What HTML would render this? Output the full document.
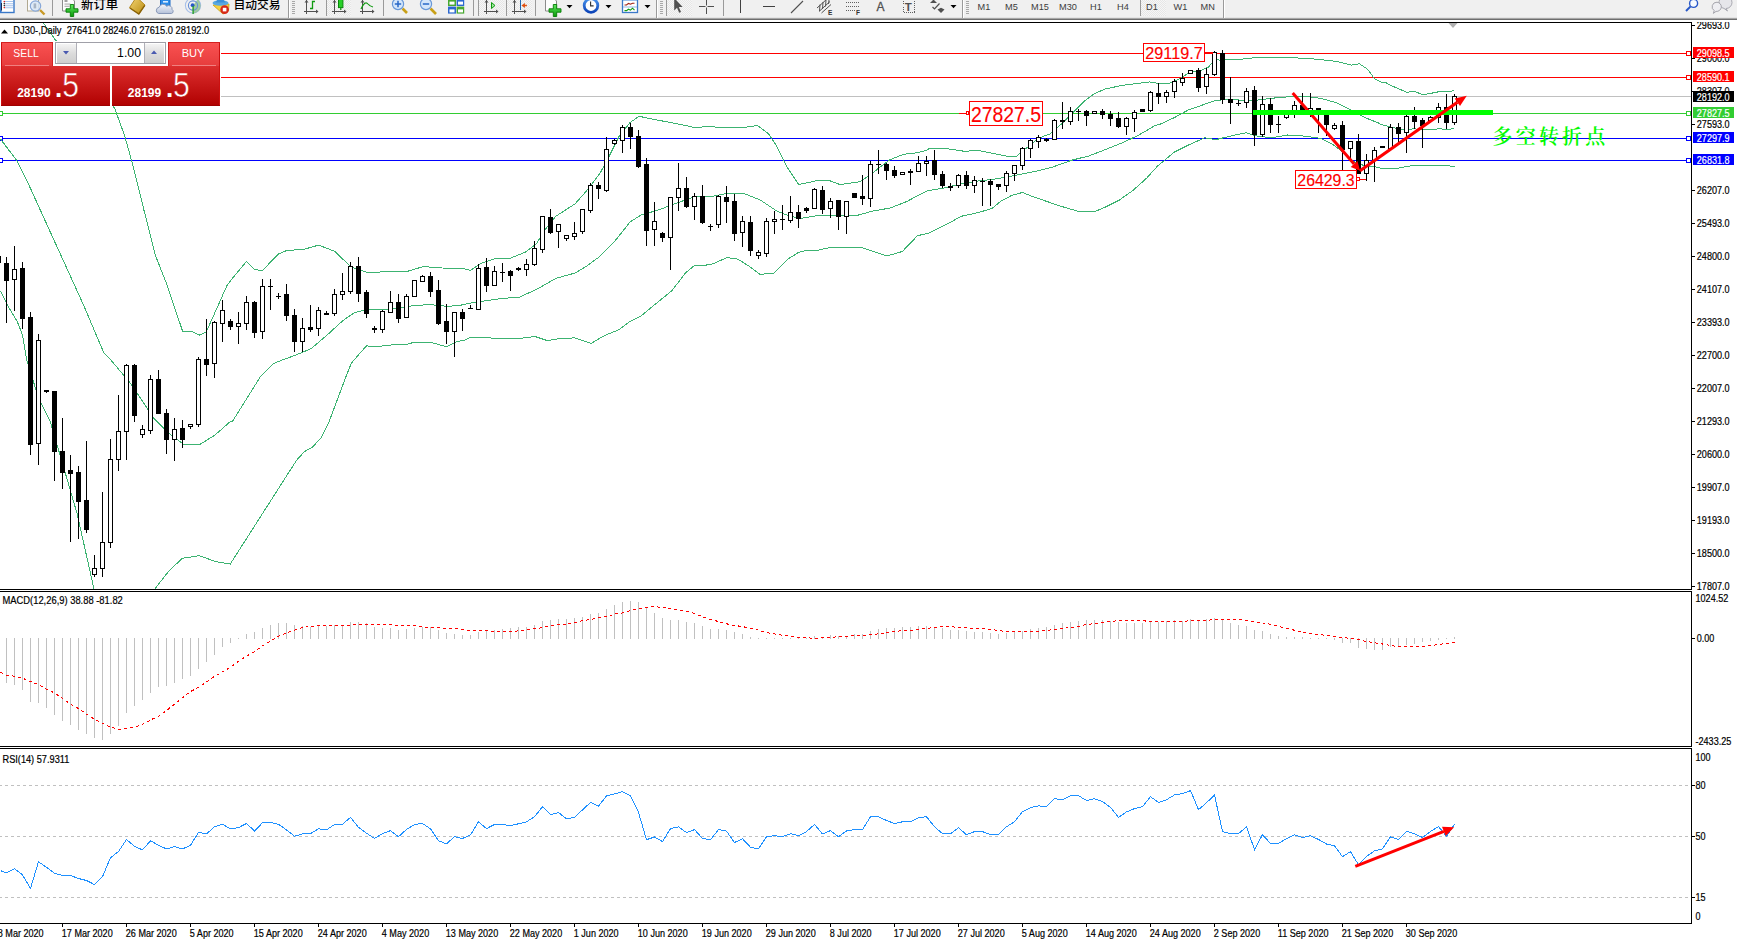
<!DOCTYPE html>
<html lang="zh"><head><meta charset="utf-8"><title>DJ30 Daily</title>
<style>
html,body{margin:0;padding:0;background:#fff;}
body{width:1737px;height:941px;overflow:hidden;position:relative;font-family:"Liberation Sans", sans-serif;}
#chart{position:absolute;left:0;top:0;}
#tb{position:absolute;left:0;top:0;width:1737px;height:22px;overflow:hidden;}
.t{position:absolute;white-space:nowrap;}
#panel{position:absolute;left:0;top:0;}
</style></head><body>
<svg id="chart" width="1737" height="941" viewBox="0 0 1737 941" font-family='"Liberation Sans", sans-serif'>
<rect width="1737" height="941" fill="#fff"/>
<g shape-rendering="crispEdges">
<rect x="0" y="53" width="1691" height="1" fill="#ff0000"/>
<rect x="0" y="77" width="1691" height="1" fill="#ff0000"/>
<rect x="0" y="96" width="1691" height="1" fill="#c0c0c0"/>
<rect x="0" y="113" width="1691" height="1" fill="#32cd32"/>
<rect x="0" y="138" width="1691" height="1" fill="#0000ff"/>
<rect x="0" y="160" width="1691" height="1" fill="#0000ff"/>
<rect x="1686.5" y="51.5" width="4" height="4" fill="#fff" stroke="#ff0000" stroke-width="1"/>
<rect x="1686.5" y="75.5" width="4" height="4" fill="#fff" stroke="#ff0000" stroke-width="1"/>
<rect x="1686.5" y="111.5" width="4" height="4" fill="#fff" stroke="#32cd32" stroke-width="1"/>
<rect x="1686.5" y="136.5" width="4" height="4" fill="#fff" stroke="#0000ff" stroke-width="1"/>
<rect x="1686.5" y="158.5" width="4" height="4" fill="#fff" stroke="#0000ff" stroke-width="1"/>
<rect x="-0.5" y="111.5" width="3" height="4" fill="#fff" stroke="#32cd32" stroke-width="1"/>
<rect x="-0.5" y="136.5" width="3" height="4" fill="#fff" stroke="#0000ff" stroke-width="1"/>
<rect x="-0.5" y="158.5" width="3" height="4" fill="#fff" stroke="#0000ff" stroke-width="1"/>
</g>
<g clip-path="url(#cpm)">
<defs><clipPath id="cpm"><rect x="0" y="23" width="1691" height="566"/></clipPath></defs>
<polyline points="43.0,22.3 43.7,23.4 55.4,40.0 114.6,108.0 124.8,136.2 131.7,161.1 144.1,210.8 155.2,255.0 166.2,282.6 182.8,331.8 191.1,331.0 199.4,335.1 206.3,331.8 216.0,310.2 227.0,285.4 232.5,278.2 246.3,261.6 254.6,269.4 262.3,270.7 278.1,254.2 286.4,250.6 304.3,249.2 318.7,245.1 334.7,251.4 351.3,267.2 367.9,272.7 387.2,271.6 406.5,271.6 423.1,266.6 442.4,268.0 464.5,268.8 470.0,270.2 470.1,270.7 481.1,263.3 494.9,258.6 510.1,258.3 525.3,252.2 536.3,243.9 544.6,230.1 555.7,216.3 575.0,203.9 586.0,191.5 599.9,173.5 608.1,158.3 619.2,136.2 630.2,122.4 639.1,116.3 655.1,119.6 677.2,123.8 696.5,127.9 703.5,126.8 704.8,126.0 718.6,127.4 746.2,127.2 757.3,125.5 768.3,133.5 776.6,145.9 787.7,168.0 798.7,184.6 815.3,181.0 829.1,180.5 840.1,184.6 859.5,181.8 870.5,174.9 878.8,168.0 889.9,159.7 903.7,154.2 917.5,152.8 928.5,149.6 928.5,148.7 936.8,148.3 950.6,149.1 964.4,151.3 978.2,150.5 992.0,153.2 1005.8,156.0 1016.9,156.0 1025.2,149.1 1039.0,138.0 1050.0,133.9 1061.1,124.2 1072.1,113.2 1083.2,102.1 1094.2,93.8 1105.3,88.9 1121.9,85.5 1135.7,83.6 1149.5,82.0 1160.5,83.6 1168.9,83.6 1174.5,81.0 1180.0,78.7 1183.5,76.3 1188.3,73.1 1193.8,71.3 1202.2,69.9 1208.5,67.1 1212.3,62.5 1217.9,59.3 1221.5,61.1 1226.2,59.7 1237.8,59.6 1237.8,59.6 1254.4,57.7 1271.0,57.7 1287.6,57.7 1304.1,58.2 1320.7,59.6 1337.3,61.5 1351.1,65.1 1359.4,63.7 1367.7,69.3 1374.6,78.9 1380.5,81.9 1387.0,83.1 1389.4,84.9 1398.4,88.6 1406.5,92.3 1414.7,91.5 1422.9,94.8 1431.1,93.3 1440.0,91.5 1447.5,92.0 1454.5,90.5" fill="none" stroke="#3cb371" stroke-width="1" shape-rendering="crispEdges"/>
<polyline points="0.5,139.0 17.1,161.1 28.1,183.2 55.7,243.9 83.4,304.7 103.8,352.8 111.0,360.2 130.6,383.4 153.6,417.9 168.9,433.2 184.2,444.7 199.5,444.7 214.9,435.1 230.2,421.7 232.5,421.3 246.3,399.2 260.1,377.1 273.9,363.3 282.2,360.0 296.0,355.0 311.2,348.6 326.4,335.7 343.0,320.5 354.0,313.0 366.5,309.4 381.7,309.7 398.2,308.6 414.8,305.3 431.4,304.7 448.0,306.4 464.5,304.7 467.3,303.6 481.1,301.4 500.4,298.6 519.7,297.0 536.3,289.5 555.7,278.5 575.0,273.0 586.0,266.6 599.9,256.4 613.7,242.6 630.2,221.8 641.3,214.9 657.9,210.2 674.4,203.9 693.8,197.0 703.5,196.4 704.8,196.5 713.1,196.2 726.9,193.4 743.5,193.4 760.0,199.8 776.6,210.9 790.4,216.4 801.5,218.3 820.8,215.0 840.1,215.5 856.7,215.5 873.3,210.9 889.9,208.1 906.4,201.7 923.0,192.9 928.5,190.5 945.1,187.8 958.9,184.4 978.2,180.9 992.0,179.5 1008.6,176.7 1022.4,173.9 1039.0,170.6 1052.8,167.0 1072.1,160.1 1088.7,156.0 1105.3,149.6 1121.9,143.0 1138.4,135.3 1155.0,125.6 1160.5,124.0 1174.3,117.6 1188.1,110.1 1201.9,105.2 1215.7,100.5 1229.6,99.1 1243.4,100.5 1254.4,100.5 1271.0,98.3 1287.6,96.9 1304.1,96.3 1320.7,98.3 1337.3,103.0 1353.9,111.3 1364.9,117.6 1378.7,123.1 1380.5,124.3 1389.4,126.5 1398.4,129.1 1406.5,129.5 1414.7,128.8 1422.9,129.9 1431.1,129.5 1440.0,128.8 1447.5,129.5 1454.5,128.5" fill="none" stroke="#3cb371" stroke-width="1" shape-rendering="crispEdges"/>
<polyline points="0.5,290.9 8.8,307.5 17.1,321.3 22.6,335.1 26.7,360.2 38.8,398.7 50.3,421.7 63.7,467.6 77.1,513.6 94.3,590.5" fill="none" stroke="#3cb371" stroke-width="1" shape-rendering="crispEdges"/>
<polyline points="153.6,590.5 168.9,571.0 182.3,558.3 199.5,555.7 214.9,561.4 230.2,564.1 296.6,460.2 304.3,451.7 312.6,447.0 320.9,437.9 329.2,421.3 337.5,399.2 345.8,377.1 351.3,363.3 359.6,353.6 366.5,345.9 376.1,346.7 392.7,344.8 406.5,344.5 414.8,342.0 431.4,342.6 446.6,346.7 456.3,341.7 464.5,340.1 470.1,337.6 481.1,337.3 500.4,338.7 519.7,338.4 534.9,336.5 547.4,340.6 561.2,338.4 575.0,337.9 591.0,343.4 605.4,335.1 619.2,329.6 630.2,321.3 641.3,315.8 657.9,302.0 671.7,290.9 685.5,273.0 693.8,266.0 703.5,265.2 704.8,265.3 713.1,263.9 726.9,257.5 737.9,259.2 749.0,266.1 760.0,274.4 773.8,273.0 787.7,259.2 798.7,252.3 807.0,250.4 815.3,250.9 826.3,248.1 842.9,247.3 862.2,247.6 873.3,251.5 887.1,255.9 902.3,251.5 917.5,235.7 925.8,233.8 928.5,233.3 945.1,225.1 961.6,216.2 978.2,212.6 992.0,208.5 1000.3,201.6 1011.4,195.5 1022.4,192.5 1033.5,196.9 1047.3,201.6 1061.1,206.3 1077.7,211.2 1094.2,211.8 1105.3,207.1 1119.1,200.2 1132.9,190.5 1146.7,178.1 1157.8,165.7 1160.5,163.7 1174.3,152.1 1188.1,145.2 1204.7,137.8 1215.7,139.7 1232.3,135.6 1246.1,132.8 1257.2,136.1 1271.0,137.8 1287.6,135.0 1304.1,136.1 1320.7,138.3 1331.8,143.8 1342.8,152.1 1353.9,161.8 1364.9,165.9 1378.7,167.3 1380.5,168.2 1389.4,168.6 1398.4,168.2 1406.5,166.4 1414.7,165.5 1422.9,166.0 1431.1,165.7 1440.0,165.5 1447.5,165.7 1454.5,166.7" fill="none" stroke="#3cb371" stroke-width="1" shape-rendering="crispEdges"/>
</g>
<g shape-rendering="crispEdges">
<rect x="6" y="257" width="1" height="66" fill="#000"/>
<rect x="4" y="263" width="5" height="18" fill="#000"/>
<rect x="14" y="246" width="1" height="65" fill="#000"/>
<rect x="12" y="269" width="5" height="11" fill="#000"/>
<rect x="13" y="270" width="3" height="9" fill="#fff"/>
<rect x="22" y="262" width="1" height="67" fill="#000"/>
<rect x="20" y="268" width="5" height="51" fill="#000"/>
<rect x="30" y="312" width="1" height="143" fill="#000"/>
<rect x="28" y="317" width="5" height="128" fill="#000"/>
<rect x="38" y="334" width="1" height="131" fill="#000"/>
<rect x="36" y="340" width="5" height="104" fill="#000"/>
<rect x="37" y="341" width="3" height="102" fill="#fff"/>
<rect x="46" y="390" width="1" height="3" fill="#000"/>
<rect x="44" y="390" width="5" height="2" fill="#000"/>
<rect x="54" y="391" width="1" height="90" fill="#000"/>
<rect x="52" y="391" width="5" height="61" fill="#000"/>
<rect x="62" y="418" width="1" height="71" fill="#000"/>
<rect x="60" y="451" width="5" height="22" fill="#000"/>
<rect x="70" y="455" width="1" height="87" fill="#000"/>
<rect x="68" y="470" width="5" height="4" fill="#000"/>
<rect x="78" y="466" width="1" height="73" fill="#000"/>
<rect x="76" y="472" width="5" height="30" fill="#000"/>
<rect x="86" y="441" width="1" height="92" fill="#000"/>
<rect x="84" y="500" width="5" height="30" fill="#000"/>
<rect x="94" y="555" width="1" height="22" fill="#000"/>
<rect x="92" y="568" width="5" height="7" fill="#000"/>
<rect x="93" y="569" width="3" height="5" fill="#fff"/>
<rect x="102" y="492" width="1" height="85" fill="#000"/>
<rect x="100" y="542" width="5" height="27" fill="#000"/>
<rect x="101" y="543" width="3" height="25" fill="#fff"/>
<rect x="110" y="439" width="1" height="109" fill="#000"/>
<rect x="108" y="459" width="5" height="84" fill="#000"/>
<rect x="109" y="460" width="3" height="82" fill="#fff"/>
<rect x="118" y="395" width="1" height="76" fill="#000"/>
<rect x="116" y="431" width="5" height="29" fill="#000"/>
<rect x="117" y="432" width="3" height="27" fill="#fff"/>
<rect x="126" y="364" width="1" height="96" fill="#000"/>
<rect x="124" y="365" width="5" height="67" fill="#000"/>
<rect x="125" y="366" width="3" height="65" fill="#fff"/>
<rect x="134" y="364" width="1" height="58" fill="#000"/>
<rect x="132" y="365" width="5" height="51" fill="#000"/>
<rect x="142" y="425" width="1" height="13" fill="#000"/>
<rect x="140" y="429" width="5" height="6" fill="#000"/>
<rect x="141" y="430" width="3" height="4" fill="#fff"/>
<rect x="150" y="375" width="1" height="59" fill="#000"/>
<rect x="148" y="379" width="5" height="52" fill="#000"/>
<rect x="149" y="380" width="3" height="50" fill="#fff"/>
<rect x="158" y="370" width="1" height="44" fill="#000"/>
<rect x="156" y="379" width="5" height="35" fill="#000"/>
<rect x="166" y="409" width="1" height="45" fill="#000"/>
<rect x="164" y="413" width="5" height="27" fill="#000"/>
<rect x="174" y="418" width="1" height="43" fill="#000"/>
<rect x="172" y="429" width="5" height="11" fill="#000"/>
<rect x="173" y="430" width="3" height="9" fill="#fff"/>
<rect x="182" y="420" width="1" height="28" fill="#000"/>
<rect x="180" y="428" width="5" height="12" fill="#000"/>
<rect x="190" y="424" width="1" height="5" fill="#000"/>
<rect x="188" y="424" width="5" height="3" fill="#000"/>
<rect x="189" y="425" width="3" height="1" fill="#fff"/>
<rect x="198" y="357" width="1" height="70" fill="#000"/>
<rect x="196" y="359" width="5" height="66" fill="#000"/>
<rect x="197" y="360" width="3" height="64" fill="#fff"/>
<rect x="206" y="319" width="1" height="57" fill="#000"/>
<rect x="204" y="359" width="5" height="6" fill="#000"/>
<rect x="214" y="321" width="1" height="57" fill="#000"/>
<rect x="212" y="322" width="5" height="42" fill="#000"/>
<rect x="213" y="323" width="3" height="40" fill="#fff"/>
<rect x="222" y="300" width="1" height="42" fill="#000"/>
<rect x="220" y="310" width="5" height="14" fill="#000"/>
<rect x="221" y="311" width="3" height="12" fill="#fff"/>
<rect x="230" y="319" width="1" height="11" fill="#000"/>
<rect x="228" y="321" width="5" height="6" fill="#000"/>
<rect x="238" y="312" width="1" height="32" fill="#000"/>
<rect x="236" y="323" width="5" height="4" fill="#000"/>
<rect x="237" y="324" width="3" height="2" fill="#fff"/>
<rect x="246" y="296" width="1" height="34" fill="#000"/>
<rect x="244" y="302" width="5" height="22" fill="#000"/>
<rect x="245" y="303" width="3" height="20" fill="#fff"/>
<rect x="254" y="301" width="1" height="37" fill="#000"/>
<rect x="252" y="302" width="5" height="31" fill="#000"/>
<rect x="262" y="279" width="1" height="60" fill="#000"/>
<rect x="260" y="286" width="5" height="46" fill="#000"/>
<rect x="261" y="287" width="3" height="44" fill="#fff"/>
<rect x="270" y="279" width="1" height="31" fill="#000"/>
<rect x="268" y="286" width="5" height="1" fill="#000"/>
<rect x="278" y="293" width="1" height="6" fill="#000"/>
<rect x="276" y="296" width="5" height="1" fill="#000"/>
<rect x="286" y="284" width="1" height="37" fill="#000"/>
<rect x="284" y="294" width="5" height="22" fill="#000"/>
<rect x="294" y="309" width="1" height="43" fill="#000"/>
<rect x="292" y="315" width="5" height="27" fill="#000"/>
<rect x="302" y="318" width="1" height="34" fill="#000"/>
<rect x="300" y="328" width="5" height="14" fill="#000"/>
<rect x="301" y="329" width="3" height="12" fill="#fff"/>
<rect x="310" y="305" width="1" height="27" fill="#000"/>
<rect x="308" y="327" width="5" height="3" fill="#000"/>
<rect x="318" y="307" width="1" height="29" fill="#000"/>
<rect x="316" y="310" width="5" height="19" fill="#000"/>
<rect x="317" y="311" width="3" height="17" fill="#fff"/>
<rect x="326" y="311" width="1" height="4" fill="#000"/>
<rect x="324" y="313" width="5" height="2" fill="#000"/>
<rect x="334" y="289" width="1" height="27" fill="#000"/>
<rect x="332" y="294" width="5" height="20" fill="#000"/>
<rect x="333" y="295" width="3" height="18" fill="#fff"/>
<rect x="342" y="273" width="1" height="27" fill="#000"/>
<rect x="340" y="291" width="5" height="4" fill="#000"/>
<rect x="341" y="292" width="3" height="2" fill="#fff"/>
<rect x="350" y="262" width="1" height="32" fill="#000"/>
<rect x="348" y="266" width="5" height="26" fill="#000"/>
<rect x="349" y="267" width="3" height="24" fill="#fff"/>
<rect x="358" y="257" width="1" height="45" fill="#000"/>
<rect x="356" y="266" width="5" height="28" fill="#000"/>
<rect x="366" y="290" width="1" height="28" fill="#000"/>
<rect x="364" y="292" width="5" height="22" fill="#000"/>
<rect x="374" y="326" width="1" height="7" fill="#000"/>
<rect x="372" y="328" width="5" height="2" fill="#000"/>
<rect x="382" y="310" width="1" height="23" fill="#000"/>
<rect x="380" y="311" width="5" height="19" fill="#000"/>
<rect x="381" y="312" width="3" height="17" fill="#fff"/>
<rect x="390" y="291" width="1" height="22" fill="#000"/>
<rect x="388" y="302" width="5" height="11" fill="#000"/>
<rect x="389" y="303" width="3" height="9" fill="#fff"/>
<rect x="398" y="294" width="1" height="29" fill="#000"/>
<rect x="396" y="302" width="5" height="17" fill="#000"/>
<rect x="406" y="294" width="1" height="24" fill="#000"/>
<rect x="404" y="296" width="5" height="22" fill="#000"/>
<rect x="405" y="297" width="3" height="20" fill="#fff"/>
<rect x="414" y="280" width="1" height="17" fill="#000"/>
<rect x="412" y="280" width="5" height="17" fill="#000"/>
<rect x="413" y="281" width="3" height="15" fill="#fff"/>
<rect x="422" y="275" width="1" height="7" fill="#000"/>
<rect x="420" y="276" width="5" height="6" fill="#000"/>
<rect x="421" y="277" width="3" height="4" fill="#fff"/>
<rect x="430" y="272" width="1" height="25" fill="#000"/>
<rect x="428" y="276" width="5" height="16" fill="#000"/>
<rect x="438" y="280" width="1" height="45" fill="#000"/>
<rect x="436" y="290" width="5" height="34" fill="#000"/>
<rect x="446" y="304" width="1" height="40" fill="#000"/>
<rect x="444" y="321" width="5" height="11" fill="#000"/>
<rect x="454" y="312" width="1" height="45" fill="#000"/>
<rect x="452" y="312" width="5" height="20" fill="#000"/>
<rect x="453" y="313" width="3" height="18" fill="#fff"/>
<rect x="462" y="309" width="1" height="22" fill="#000"/>
<rect x="460" y="312" width="5" height="7" fill="#000"/>
<rect x="470" y="305" width="1" height="4" fill="#000"/>
<rect x="468" y="308" width="5" height="1" fill="#000"/>
<rect x="478" y="264" width="1" height="46" fill="#000"/>
<rect x="476" y="268" width="5" height="42" fill="#000"/>
<rect x="477" y="269" width="3" height="40" fill="#fff"/>
<rect x="486" y="258" width="1" height="34" fill="#000"/>
<rect x="484" y="267" width="5" height="19" fill="#000"/>
<rect x="494" y="266" width="1" height="20" fill="#000"/>
<rect x="492" y="271" width="5" height="15" fill="#000"/>
<rect x="493" y="272" width="3" height="13" fill="#fff"/>
<rect x="502" y="263" width="1" height="19" fill="#000"/>
<rect x="500" y="272" width="5" height="1" fill="#000"/>
<rect x="510" y="270" width="1" height="21" fill="#000"/>
<rect x="508" y="271" width="5" height="5" fill="#000"/>
<rect x="518" y="267" width="1" height="4" fill="#000"/>
<rect x="516" y="268" width="5" height="2" fill="#000"/>
<rect x="526" y="259" width="1" height="17" fill="#000"/>
<rect x="524" y="264" width="5" height="6" fill="#000"/>
<rect x="525" y="265" width="3" height="4" fill="#fff"/>
<rect x="534" y="241" width="1" height="25" fill="#000"/>
<rect x="532" y="248" width="5" height="17" fill="#000"/>
<rect x="533" y="249" width="3" height="15" fill="#fff"/>
<rect x="542" y="216" width="1" height="37" fill="#000"/>
<rect x="540" y="216" width="5" height="34" fill="#000"/>
<rect x="541" y="217" width="3" height="32" fill="#fff"/>
<rect x="550" y="209" width="1" height="25" fill="#000"/>
<rect x="548" y="217" width="5" height="16" fill="#000"/>
<rect x="558" y="224" width="1" height="24" fill="#000"/>
<rect x="556" y="224" width="5" height="8" fill="#000"/>
<rect x="557" y="225" width="3" height="6" fill="#fff"/>
<rect x="566" y="235" width="1" height="6" fill="#000"/>
<rect x="564" y="235" width="5" height="4" fill="#000"/>
<rect x="565" y="236" width="3" height="2" fill="#fff"/>
<rect x="574" y="222" width="1" height="18" fill="#000"/>
<rect x="572" y="233" width="5" height="4" fill="#000"/>
<rect x="573" y="234" width="3" height="2" fill="#fff"/>
<rect x="582" y="209" width="1" height="25" fill="#000"/>
<rect x="580" y="209" width="5" height="23" fill="#000"/>
<rect x="581" y="210" width="3" height="21" fill="#fff"/>
<rect x="590" y="183" width="1" height="30" fill="#000"/>
<rect x="588" y="185" width="5" height="26" fill="#000"/>
<rect x="589" y="186" width="3" height="24" fill="#fff"/>
<rect x="598" y="182" width="1" height="17" fill="#000"/>
<rect x="596" y="185" width="5" height="4" fill="#000"/>
<rect x="606" y="137" width="1" height="55" fill="#000"/>
<rect x="604" y="149" width="5" height="42" fill="#000"/>
<rect x="605" y="150" width="3" height="40" fill="#fff"/>
<rect x="614" y="139" width="1" height="6" fill="#000"/>
<rect x="612" y="140" width="5" height="4" fill="#000"/>
<rect x="613" y="141" width="3" height="2" fill="#fff"/>
<rect x="622" y="125" width="1" height="28" fill="#000"/>
<rect x="620" y="127" width="5" height="14" fill="#000"/>
<rect x="621" y="128" width="3" height="12" fill="#fff"/>
<rect x="630" y="123" width="1" height="26" fill="#000"/>
<rect x="628" y="127" width="5" height="10" fill="#000"/>
<rect x="638" y="130" width="1" height="38" fill="#000"/>
<rect x="636" y="136" width="5" height="31" fill="#000"/>
<rect x="646" y="158" width="1" height="88" fill="#000"/>
<rect x="644" y="164" width="5" height="67" fill="#000"/>
<rect x="654" y="202" width="1" height="44" fill="#000"/>
<rect x="652" y="221" width="5" height="9" fill="#000"/>
<rect x="653" y="222" width="3" height="7" fill="#fff"/>
<rect x="662" y="232" width="1" height="10" fill="#000"/>
<rect x="660" y="233" width="5" height="5" fill="#000"/>
<rect x="670" y="197" width="1" height="73" fill="#000"/>
<rect x="668" y="197" width="5" height="41" fill="#000"/>
<rect x="669" y="198" width="3" height="39" fill="#fff"/>
<rect x="678" y="163" width="1" height="48" fill="#000"/>
<rect x="676" y="188" width="5" height="10" fill="#000"/>
<rect x="677" y="189" width="3" height="8" fill="#fff"/>
<rect x="686" y="177" width="1" height="31" fill="#000"/>
<rect x="684" y="188" width="5" height="19" fill="#000"/>
<rect x="694" y="193" width="1" height="27" fill="#000"/>
<rect x="692" y="196" width="5" height="11" fill="#000"/>
<rect x="693" y="197" width="3" height="9" fill="#fff"/>
<rect x="702" y="185" width="1" height="39" fill="#000"/>
<rect x="700" y="196" width="5" height="27" fill="#000"/>
<rect x="710" y="224" width="1" height="7" fill="#000"/>
<rect x="708" y="226" width="5" height="1" fill="#000"/>
<rect x="718" y="195" width="1" height="33" fill="#000"/>
<rect x="716" y="196" width="5" height="29" fill="#000"/>
<rect x="717" y="197" width="3" height="27" fill="#fff"/>
<rect x="726" y="186" width="1" height="37" fill="#000"/>
<rect x="724" y="197" width="5" height="5" fill="#000"/>
<rect x="734" y="194" width="1" height="47" fill="#000"/>
<rect x="732" y="201" width="5" height="33" fill="#000"/>
<rect x="742" y="216" width="1" height="31" fill="#000"/>
<rect x="740" y="221" width="5" height="12" fill="#000"/>
<rect x="741" y="222" width="3" height="10" fill="#fff"/>
<rect x="750" y="216" width="1" height="40" fill="#000"/>
<rect x="748" y="222" width="5" height="29" fill="#000"/>
<rect x="758" y="250" width="1" height="9" fill="#000"/>
<rect x="756" y="252" width="5" height="4" fill="#000"/>
<rect x="757" y="253" width="3" height="2" fill="#fff"/>
<rect x="766" y="218" width="1" height="39" fill="#000"/>
<rect x="764" y="221" width="5" height="33" fill="#000"/>
<rect x="765" y="222" width="3" height="31" fill="#fff"/>
<rect x="774" y="211" width="1" height="23" fill="#000"/>
<rect x="772" y="219" width="5" height="3" fill="#000"/>
<rect x="773" y="220" width="3" height="1" fill="#fff"/>
<rect x="782" y="205" width="1" height="25" fill="#000"/>
<rect x="780" y="219" width="5" height="1" fill="#000"/>
<rect x="790" y="196" width="1" height="27" fill="#000"/>
<rect x="788" y="212" width="5" height="9" fill="#000"/>
<rect x="789" y="213" width="3" height="7" fill="#fff"/>
<rect x="798" y="205" width="1" height="23" fill="#000"/>
<rect x="796" y="212" width="5" height="7" fill="#000"/>
<rect x="806" y="207" width="1" height="6" fill="#000"/>
<rect x="804" y="208" width="5" height="3" fill="#000"/>
<rect x="814" y="188" width="1" height="21" fill="#000"/>
<rect x="812" y="189" width="5" height="20" fill="#000"/>
<rect x="813" y="190" width="3" height="18" fill="#fff"/>
<rect x="822" y="186" width="1" height="28" fill="#000"/>
<rect x="820" y="190" width="5" height="20" fill="#000"/>
<rect x="830" y="198" width="1" height="20" fill="#000"/>
<rect x="828" y="201" width="5" height="8" fill="#000"/>
<rect x="829" y="202" width="3" height="6" fill="#fff"/>
<rect x="838" y="200" width="1" height="30" fill="#000"/>
<rect x="836" y="200" width="5" height="17" fill="#000"/>
<rect x="846" y="201" width="1" height="33" fill="#000"/>
<rect x="844" y="201" width="5" height="16" fill="#000"/>
<rect x="845" y="202" width="3" height="14" fill="#fff"/>
<rect x="854" y="193" width="1" height="5" fill="#000"/>
<rect x="852" y="193" width="5" height="5" fill="#000"/>
<rect x="862" y="175" width="1" height="30" fill="#000"/>
<rect x="860" y="196" width="5" height="3" fill="#000"/>
<rect x="870" y="161" width="1" height="46" fill="#000"/>
<rect x="868" y="164" width="5" height="35" fill="#000"/>
<rect x="869" y="165" width="3" height="33" fill="#fff"/>
<rect x="878" y="150" width="1" height="24" fill="#000"/>
<rect x="876" y="164" width="5" height="1" fill="#000"/>
<rect x="886" y="163" width="1" height="17" fill="#000"/>
<rect x="884" y="164" width="5" height="7" fill="#000"/>
<rect x="894" y="166" width="1" height="12" fill="#000"/>
<rect x="892" y="170" width="5" height="6" fill="#000"/>
<rect x="902" y="172" width="1" height="3" fill="#000"/>
<rect x="900" y="172" width="5" height="3" fill="#000"/>
<rect x="901" y="173" width="3" height="1" fill="#fff"/>
<rect x="910" y="169" width="1" height="16" fill="#000"/>
<rect x="908" y="171" width="5" height="2" fill="#000"/>
<rect x="918" y="156" width="1" height="16" fill="#000"/>
<rect x="916" y="163" width="5" height="9" fill="#000"/>
<rect x="917" y="164" width="3" height="7" fill="#fff"/>
<rect x="926" y="156" width="1" height="20" fill="#000"/>
<rect x="924" y="161" width="5" height="3" fill="#000"/>
<rect x="925" y="162" width="3" height="1" fill="#fff"/>
<rect x="934" y="150" width="1" height="30" fill="#000"/>
<rect x="932" y="160" width="5" height="15" fill="#000"/>
<rect x="942" y="171" width="1" height="17" fill="#000"/>
<rect x="940" y="174" width="5" height="12" fill="#000"/>
<rect x="950" y="183" width="1" height="8" fill="#000"/>
<rect x="948" y="186" width="5" height="2" fill="#000"/>
<rect x="958" y="174" width="1" height="14" fill="#000"/>
<rect x="956" y="175" width="5" height="11" fill="#000"/>
<rect x="957" y="176" width="3" height="9" fill="#fff"/>
<rect x="966" y="171" width="1" height="18" fill="#000"/>
<rect x="964" y="175" width="5" height="11" fill="#000"/>
<rect x="974" y="176" width="1" height="17" fill="#000"/>
<rect x="972" y="180" width="5" height="6" fill="#000"/>
<rect x="973" y="181" width="3" height="4" fill="#fff"/>
<rect x="982" y="178" width="1" height="28" fill="#000"/>
<rect x="980" y="181" width="5" height="1" fill="#000"/>
<rect x="990" y="179" width="1" height="27" fill="#000"/>
<rect x="988" y="181" width="5" height="4" fill="#000"/>
<rect x="998" y="184" width="1" height="6" fill="#000"/>
<rect x="996" y="184" width="5" height="3" fill="#000"/>
<rect x="1006" y="171" width="1" height="21" fill="#000"/>
<rect x="1004" y="173" width="5" height="13" fill="#000"/>
<rect x="1005" y="174" width="3" height="11" fill="#fff"/>
<rect x="1014" y="165" width="1" height="16" fill="#000"/>
<rect x="1012" y="165" width="5" height="9" fill="#000"/>
<rect x="1013" y="166" width="3" height="7" fill="#fff"/>
<rect x="1022" y="147" width="1" height="23" fill="#000"/>
<rect x="1020" y="148" width="5" height="18" fill="#000"/>
<rect x="1021" y="149" width="3" height="16" fill="#fff"/>
<rect x="1030" y="139" width="1" height="19" fill="#000"/>
<rect x="1028" y="140" width="5" height="9" fill="#000"/>
<rect x="1029" y="141" width="3" height="7" fill="#fff"/>
<rect x="1038" y="135" width="1" height="13" fill="#000"/>
<rect x="1036" y="137" width="5" height="5" fill="#000"/>
<rect x="1037" y="138" width="3" height="3" fill="#fff"/>
<rect x="1046" y="138" width="1" height="4" fill="#000"/>
<rect x="1044" y="139" width="5" height="2" fill="#000"/>
<rect x="1054" y="119" width="1" height="21" fill="#000"/>
<rect x="1052" y="120" width="5" height="20" fill="#000"/>
<rect x="1053" y="121" width="3" height="18" fill="#fff"/>
<rect x="1062" y="102" width="1" height="27" fill="#000"/>
<rect x="1060" y="120" width="5" height="2" fill="#000"/>
<rect x="1070" y="107" width="1" height="18" fill="#000"/>
<rect x="1068" y="111" width="5" height="11" fill="#000"/>
<rect x="1069" y="112" width="3" height="9" fill="#fff"/>
<rect x="1078" y="109" width="1" height="12" fill="#000"/>
<rect x="1076" y="111" width="5" height="1" fill="#000"/>
<rect x="1086" y="110" width="1" height="16" fill="#000"/>
<rect x="1084" y="111" width="5" height="5" fill="#000"/>
<rect x="1094" y="111" width="1" height="3" fill="#000"/>
<rect x="1092" y="111" width="5" height="3" fill="#000"/>
<rect x="1093" y="112" width="3" height="1" fill="#fff"/>
<rect x="1102" y="109" width="1" height="10" fill="#000"/>
<rect x="1100" y="111" width="5" height="4" fill="#000"/>
<rect x="1110" y="111" width="1" height="15" fill="#000"/>
<rect x="1108" y="114" width="5" height="5" fill="#000"/>
<rect x="1118" y="112" width="1" height="16" fill="#000"/>
<rect x="1116" y="118" width="5" height="9" fill="#000"/>
<rect x="1126" y="117" width="1" height="18" fill="#000"/>
<rect x="1124" y="118" width="5" height="9" fill="#000"/>
<rect x="1125" y="119" width="3" height="7" fill="#fff"/>
<rect x="1134" y="110" width="1" height="22" fill="#000"/>
<rect x="1132" y="112" width="5" height="7" fill="#000"/>
<rect x="1133" y="113" width="3" height="5" fill="#fff"/>
<rect x="1142" y="109" width="1" height="3" fill="#000"/>
<rect x="1140" y="109" width="5" height="3" fill="#000"/>
<rect x="1150" y="91" width="1" height="21" fill="#000"/>
<rect x="1148" y="92" width="5" height="19" fill="#000"/>
<rect x="1149" y="93" width="3" height="17" fill="#fff"/>
<rect x="1158" y="83" width="1" height="21" fill="#000"/>
<rect x="1156" y="93" width="5" height="4" fill="#000"/>
<rect x="1166" y="90" width="1" height="13" fill="#000"/>
<rect x="1164" y="92" width="5" height="5" fill="#000"/>
<rect x="1165" y="93" width="3" height="3" fill="#fff"/>
<rect x="1174" y="79" width="1" height="19" fill="#000"/>
<rect x="1172" y="81" width="5" height="11" fill="#000"/>
<rect x="1173" y="82" width="3" height="9" fill="#fff"/>
<rect x="1182" y="73" width="1" height="13" fill="#000"/>
<rect x="1180" y="78" width="5" height="5" fill="#000"/>
<rect x="1181" y="79" width="3" height="3" fill="#fff"/>
<rect x="1190" y="70" width="1" height="4" fill="#000"/>
<rect x="1188" y="70" width="5" height="4" fill="#000"/>
<rect x="1189" y="71" width="3" height="2" fill="#fff"/>
<rect x="1198" y="68" width="1" height="24" fill="#000"/>
<rect x="1196" y="70" width="5" height="18" fill="#000"/>
<rect x="1206" y="68" width="1" height="26" fill="#000"/>
<rect x="1204" y="74" width="5" height="13" fill="#000"/>
<rect x="1205" y="75" width="3" height="11" fill="#fff"/>
<rect x="1214" y="51" width="1" height="25" fill="#000"/>
<rect x="1212" y="52" width="5" height="23" fill="#000"/>
<rect x="1213" y="53" width="3" height="21" fill="#fff"/>
<rect x="1222" y="50" width="1" height="54" fill="#000"/>
<rect x="1220" y="53" width="5" height="47" fill="#000"/>
<rect x="1230" y="77" width="1" height="47" fill="#000"/>
<rect x="1228" y="99" width="5" height="4" fill="#000"/>
<rect x="1238" y="100" width="1" height="6" fill="#000"/>
<rect x="1236" y="103" width="5" height="1" fill="#000"/>
<rect x="1246" y="88" width="1" height="20" fill="#000"/>
<rect x="1244" y="91" width="5" height="12" fill="#000"/>
<rect x="1245" y="92" width="3" height="10" fill="#fff"/>
<rect x="1254" y="86" width="1" height="60" fill="#000"/>
<rect x="1252" y="90" width="5" height="45" fill="#000"/>
<rect x="1262" y="96" width="1" height="41" fill="#000"/>
<rect x="1260" y="104" width="5" height="31" fill="#000"/>
<rect x="1261" y="105" width="3" height="29" fill="#fff"/>
<rect x="1270" y="98" width="1" height="35" fill="#000"/>
<rect x="1268" y="104" width="5" height="21" fill="#000"/>
<rect x="1278" y="116" width="1" height="17" fill="#000"/>
<rect x="1276" y="124" width="5" height="1" fill="#000"/>
<rect x="1286" y="114" width="1" height="5" fill="#000"/>
<rect x="1284" y="114" width="5" height="4" fill="#000"/>
<rect x="1285" y="115" width="3" height="2" fill="#fff"/>
<rect x="1294" y="101" width="1" height="17" fill="#000"/>
<rect x="1292" y="105" width="5" height="6" fill="#000"/>
<rect x="1293" y="106" width="3" height="4" fill="#fff"/>
<rect x="1302" y="93" width="1" height="18" fill="#000"/>
<rect x="1300" y="105" width="5" height="6" fill="#000"/>
<rect x="1310" y="93" width="1" height="24" fill="#000"/>
<rect x="1308" y="108" width="5" height="6" fill="#000"/>
<rect x="1309" y="109" width="3" height="4" fill="#fff"/>
<rect x="1318" y="108" width="1" height="25" fill="#000"/>
<rect x="1316" y="108" width="5" height="3" fill="#000"/>
<rect x="1326" y="113" width="1" height="23" fill="#000"/>
<rect x="1324" y="115" width="5" height="10" fill="#000"/>
<rect x="1334" y="123" width="1" height="7" fill="#000"/>
<rect x="1332" y="125" width="5" height="4" fill="#000"/>
<rect x="1333" y="126" width="3" height="2" fill="#fff"/>
<rect x="1342" y="121" width="1" height="53" fill="#000"/>
<rect x="1340" y="125" width="5" height="25" fill="#000"/>
<rect x="1350" y="141" width="1" height="20" fill="#000"/>
<rect x="1348" y="141" width="5" height="8" fill="#000"/>
<rect x="1349" y="142" width="3" height="6" fill="#fff"/>
<rect x="1358" y="134" width="1" height="40" fill="#000"/>
<rect x="1356" y="141" width="5" height="33" fill="#000"/>
<rect x="1366" y="154" width="1" height="27" fill="#000"/>
<rect x="1364" y="160" width="5" height="14" fill="#000"/>
<rect x="1365" y="161" width="3" height="12" fill="#fff"/>
<rect x="1374" y="147" width="1" height="35" fill="#000"/>
<rect x="1372" y="150" width="5" height="11" fill="#000"/>
<rect x="1373" y="151" width="3" height="9" fill="#fff"/>
<rect x="1382" y="146" width="1" height="2" fill="#000"/>
<rect x="1380" y="146" width="5" height="2" fill="#000"/>
<rect x="1390" y="124" width="1" height="25" fill="#000"/>
<rect x="1388" y="127" width="5" height="22" fill="#000"/>
<rect x="1389" y="128" width="3" height="20" fill="#fff"/>
<rect x="1398" y="123" width="1" height="19" fill="#000"/>
<rect x="1396" y="127" width="5" height="7" fill="#000"/>
<rect x="1406" y="115" width="1" height="38" fill="#000"/>
<rect x="1404" y="116" width="5" height="17" fill="#000"/>
<rect x="1405" y="117" width="3" height="15" fill="#fff"/>
<rect x="1414" y="107" width="1" height="22" fill="#000"/>
<rect x="1412" y="116" width="5" height="6" fill="#000"/>
<rect x="1422" y="118" width="1" height="30" fill="#000"/>
<rect x="1420" y="120" width="5" height="6" fill="#000"/>
<rect x="1430" y="116" width="1" height="6" fill="#000"/>
<rect x="1428" y="117" width="5" height="4" fill="#000"/>
<rect x="1429" y="118" width="3" height="2" fill="#fff"/>
<rect x="1438" y="103" width="1" height="20" fill="#000"/>
<rect x="1436" y="107" width="5" height="11" fill="#000"/>
<rect x="1437" y="108" width="3" height="9" fill="#fff"/>
<rect x="1446" y="94" width="1" height="35" fill="#000"/>
<rect x="1444" y="107" width="5" height="16" fill="#000"/>
<rect x="1454" y="94" width="1" height="31" fill="#000"/>
<rect x="1452" y="96" width="5" height="27" fill="#000"/>
<rect x="1453" y="97" width="3" height="25" fill="#fff"/>
</g>
<rect x="0" y="256" width="1" height="7" fill="#000" shape-rendering="crispEdges"/>
<line x1="1292.7" y1="93.1" x2="1354.1" y2="164.0" stroke="#ff0000" stroke-width="3"/>
<polygon points="1360.0,170.8 1350.7,166.9 1357.5,161.1" fill="#ff0000"/>
<rect x="1253" y="110" width="240" height="5" fill="#00ff00" shape-rendering="crispEdges"/>
<line x1="1360.0" y1="170.8" x2="1457.4" y2="102.3" stroke="#ff0000" stroke-width="3.2"/>
<polygon points="1466.8,95.7 1460.0,106.1 1454.7,98.6" fill="#ff0000"/>
<rect x="969.5" y="101.5" width="73" height="24" fill="#fff" stroke="#ff0000" stroke-width="1" shape-rendering="crispEdges"/>
<text x="1006.0" y="114.1" fill="#ff0000" stroke="#ff0000" stroke-width="0.15" font-size="22" text-anchor="middle" dominant-baseline="central" textLength="70" lengthAdjust="spacingAndGlyphs">27827.5</text>
<rect x="1143.5" y="43.5" width="61" height="18" fill="#fff" stroke="#ff0000" stroke-width="1" shape-rendering="crispEdges"/>
<text x="1174.0" y="53.7" fill="#ff0000" stroke="#ff0000" stroke-width="0.15" font-size="16" text-anchor="middle" dominant-baseline="central" textLength="57.3" lengthAdjust="spacingAndGlyphs">29119.7</text>
<rect x="1295.5" y="170.5" width="61" height="18" fill="#fff" stroke="#ff0000" stroke-width="1" shape-rendering="crispEdges"/>
<text x="1326.0" y="180.7" fill="#ff0000" stroke="#ff0000" stroke-width="0.15" font-size="16" text-anchor="middle" dominant-baseline="central" textLength="57.3" lengthAdjust="spacingAndGlyphs">26429.3</text>
<g shape-rendering="crispEdges">
<rect x="959" y="113" width="8" height="1" fill="#ff0000"/>
<rect x="966.5" y="111.5" width="2" height="3" fill="#fff" stroke="#ff0000"/>
<rect x="1205" y="52" width="8" height="2" fill="#ff0000"/>
<rect x="1356.5" y="177.5" width="3" height="3" fill="#fff" stroke="#ff0000"/>
<rect x="1360" y="179" width="6" height="1" fill="#ff0000"/>
</g>
<text x="1492.5" y="144.4" fill="#00fa00" font-size="20" font-weight="600" letter-spacing="3.2" font-family='"Liberation Serif", "Noto Serif CJK SC", serif'>多空转折点</text>
<g shape-rendering="crispEdges">
<rect x="6" y="638" width="1" height="45" fill="#c0c0c0"/>
<rect x="14" y="638" width="1" height="47" fill="#c0c0c0"/>
<rect x="22" y="638" width="1" height="52" fill="#c0c0c0"/>
<rect x="30" y="638" width="1" height="64" fill="#c0c0c0"/>
<rect x="38" y="638" width="1" height="65" fill="#c0c0c0"/>
<rect x="46" y="638" width="1" height="70" fill="#c0c0c0"/>
<rect x="54" y="638" width="1" height="77" fill="#c0c0c0"/>
<rect x="62" y="638" width="1" height="83" fill="#c0c0c0"/>
<rect x="70" y="638" width="1" height="87" fill="#c0c0c0"/>
<rect x="78" y="638" width="1" height="92" fill="#c0c0c0"/>
<rect x="86" y="638" width="1" height="96" fill="#c0c0c0"/>
<rect x="94" y="638" width="1" height="100" fill="#c0c0c0"/>
<rect x="102" y="638" width="1" height="102" fill="#c0c0c0"/>
<rect x="110" y="638" width="1" height="96" fill="#c0c0c0"/>
<rect x="118" y="638" width="1" height="88" fill="#c0c0c0"/>
<rect x="126" y="638" width="1" height="75" fill="#c0c0c0"/>
<rect x="134" y="638" width="1" height="68" fill="#c0c0c0"/>
<rect x="142" y="638" width="1" height="62" fill="#c0c0c0"/>
<rect x="150" y="638" width="1" height="55" fill="#c0c0c0"/>
<rect x="158" y="638" width="1" height="49" fill="#c0c0c0"/>
<rect x="166" y="638" width="1" height="48" fill="#c0c0c0"/>
<rect x="174" y="638" width="1" height="45" fill="#c0c0c0"/>
<rect x="182" y="638" width="1" height="41" fill="#c0c0c0"/>
<rect x="190" y="638" width="1" height="38" fill="#c0c0c0"/>
<rect x="198" y="638" width="1" height="31" fill="#c0c0c0"/>
<rect x="206" y="638" width="1" height="24" fill="#c0c0c0"/>
<rect x="214" y="638" width="1" height="17" fill="#c0c0c0"/>
<rect x="222" y="638" width="1" height="9" fill="#c0c0c0"/>
<rect x="230" y="638" width="1" height="5" fill="#c0c0c0"/>
<rect x="238" y="638" width="1" height="1" fill="#c0c0c0"/>
<rect x="246" y="634" width="1" height="5" fill="#c0c0c0"/>
<rect x="254" y="632" width="1" height="7" fill="#c0c0c0"/>
<rect x="262" y="628" width="1" height="11" fill="#c0c0c0"/>
<rect x="270" y="625" width="1" height="14" fill="#c0c0c0"/>
<rect x="278" y="623" width="1" height="16" fill="#c0c0c0"/>
<rect x="286" y="623" width="1" height="16" fill="#c0c0c0"/>
<rect x="294" y="625" width="1" height="14" fill="#c0c0c0"/>
<rect x="302" y="626" width="1" height="13" fill="#c0c0c0"/>
<rect x="310" y="627" width="1" height="12" fill="#c0c0c0"/>
<rect x="318" y="626" width="1" height="13" fill="#c0c0c0"/>
<rect x="326" y="626" width="1" height="13" fill="#c0c0c0"/>
<rect x="334" y="625" width="1" height="14" fill="#c0c0c0"/>
<rect x="342" y="625" width="1" height="14" fill="#c0c0c0"/>
<rect x="350" y="622" width="1" height="17" fill="#c0c0c0"/>
<rect x="358" y="622" width="1" height="17" fill="#c0c0c0"/>
<rect x="366" y="623" width="1" height="16" fill="#c0c0c0"/>
<rect x="374" y="627" width="1" height="12" fill="#c0c0c0"/>
<rect x="382" y="628" width="1" height="11" fill="#c0c0c0"/>
<rect x="390" y="628" width="1" height="11" fill="#c0c0c0"/>
<rect x="398" y="630" width="1" height="9" fill="#c0c0c0"/>
<rect x="406" y="629" width="1" height="10" fill="#c0c0c0"/>
<rect x="414" y="628" width="1" height="11" fill="#c0c0c0"/>
<rect x="422" y="627" width="1" height="12" fill="#c0c0c0"/>
<rect x="430" y="627" width="1" height="12" fill="#c0c0c0"/>
<rect x="438" y="630" width="1" height="9" fill="#c0c0c0"/>
<rect x="446" y="633" width="1" height="6" fill="#c0c0c0"/>
<rect x="454" y="634" width="1" height="5" fill="#c0c0c0"/>
<rect x="462" y="635" width="1" height="4" fill="#c0c0c0"/>
<rect x="470" y="635" width="1" height="4" fill="#c0c0c0"/>
<rect x="478" y="632" width="1" height="7" fill="#c0c0c0"/>
<rect x="486" y="631" width="1" height="8" fill="#c0c0c0"/>
<rect x="494" y="630" width="1" height="9" fill="#c0c0c0"/>
<rect x="502" y="629" width="1" height="10" fill="#c0c0c0"/>
<rect x="510" y="628" width="1" height="11" fill="#c0c0c0"/>
<rect x="518" y="627" width="1" height="12" fill="#c0c0c0"/>
<rect x="526" y="627" width="1" height="12" fill="#c0c0c0"/>
<rect x="534" y="625" width="1" height="14" fill="#c0c0c0"/>
<rect x="542" y="621" width="1" height="18" fill="#c0c0c0"/>
<rect x="550" y="620" width="1" height="19" fill="#c0c0c0"/>
<rect x="558" y="619" width="1" height="20" fill="#c0c0c0"/>
<rect x="566" y="619" width="1" height="20" fill="#c0c0c0"/>
<rect x="574" y="618" width="1" height="21" fill="#c0c0c0"/>
<rect x="582" y="617" width="1" height="22" fill="#c0c0c0"/>
<rect x="590" y="614" width="1" height="25" fill="#c0c0c0"/>
<rect x="598" y="613" width="1" height="26" fill="#c0c0c0"/>
<rect x="606" y="609" width="1" height="30" fill="#c0c0c0"/>
<rect x="614" y="605" width="1" height="34" fill="#c0c0c0"/>
<rect x="622" y="602" width="1" height="37" fill="#c0c0c0"/>
<rect x="630" y="601" width="1" height="38" fill="#c0c0c0"/>
<rect x="638" y="602" width="1" height="37" fill="#c0c0c0"/>
<rect x="646" y="608" width="1" height="31" fill="#c0c0c0"/>
<rect x="654" y="613" width="1" height="26" fill="#c0c0c0"/>
<rect x="662" y="618" width="1" height="21" fill="#c0c0c0"/>
<rect x="670" y="620" width="1" height="19" fill="#c0c0c0"/>
<rect x="678" y="620" width="1" height="19" fill="#c0c0c0"/>
<rect x="686" y="622" width="1" height="17" fill="#c0c0c0"/>
<rect x="694" y="623" width="1" height="16" fill="#c0c0c0"/>
<rect x="702" y="626" width="1" height="13" fill="#c0c0c0"/>
<rect x="710" y="629" width="1" height="10" fill="#c0c0c0"/>
<rect x="718" y="629" width="1" height="10" fill="#c0c0c0"/>
<rect x="726" y="630" width="1" height="9" fill="#c0c0c0"/>
<rect x="734" y="632" width="1" height="7" fill="#c0c0c0"/>
<rect x="742" y="634" width="1" height="5" fill="#c0c0c0"/>
<rect x="750" y="637" width="1" height="2" fill="#c0c0c0"/>
<rect x="758" y="638" width="1" height="1" fill="#c0c0c0"/>
<rect x="766" y="638" width="1" height="1" fill="#c0c0c0"/>
<rect x="774" y="638" width="1" height="1" fill="#c0c0c0"/>
<rect x="782" y="638" width="1" height="1" fill="#c0c0c0"/>
<rect x="790" y="638" width="1" height="1" fill="#c0c0c0"/>
<rect x="798" y="638" width="1" height="1" fill="#c0c0c0"/>
<rect x="806" y="638" width="1" height="1" fill="#c0c0c0"/>
<rect x="814" y="636" width="1" height="3" fill="#c0c0c0"/>
<rect x="822" y="637" width="1" height="2" fill="#c0c0c0"/>
<rect x="830" y="635" width="1" height="4" fill="#c0c0c0"/>
<rect x="838" y="636" width="1" height="3" fill="#c0c0c0"/>
<rect x="846" y="636" width="1" height="3" fill="#c0c0c0"/>
<rect x="854" y="634" width="1" height="5" fill="#c0c0c0"/>
<rect x="862" y="634" width="1" height="5" fill="#c0c0c0"/>
<rect x="870" y="631" width="1" height="8" fill="#c0c0c0"/>
<rect x="878" y="629" width="1" height="10" fill="#c0c0c0"/>
<rect x="886" y="628" width="1" height="11" fill="#c0c0c0"/>
<rect x="894" y="628" width="1" height="11" fill="#c0c0c0"/>
<rect x="902" y="627" width="1" height="12" fill="#c0c0c0"/>
<rect x="910" y="627" width="1" height="12" fill="#c0c0c0"/>
<rect x="918" y="626" width="1" height="13" fill="#c0c0c0"/>
<rect x="926" y="626" width="1" height="13" fill="#c0c0c0"/>
<rect x="934" y="627" width="1" height="12" fill="#c0c0c0"/>
<rect x="942" y="628" width="1" height="11" fill="#c0c0c0"/>
<rect x="950" y="630" width="1" height="9" fill="#c0c0c0"/>
<rect x="958" y="630" width="1" height="9" fill="#c0c0c0"/>
<rect x="966" y="631" width="1" height="8" fill="#c0c0c0"/>
<rect x="974" y="632" width="1" height="7" fill="#c0c0c0"/>
<rect x="982" y="632" width="1" height="7" fill="#c0c0c0"/>
<rect x="990" y="633" width="1" height="6" fill="#c0c0c0"/>
<rect x="998" y="634" width="1" height="5" fill="#c0c0c0"/>
<rect x="1006" y="633" width="1" height="6" fill="#c0c0c0"/>
<rect x="1014" y="632" width="1" height="7" fill="#c0c0c0"/>
<rect x="1022" y="631" width="1" height="8" fill="#c0c0c0"/>
<rect x="1030" y="629" width="1" height="10" fill="#c0c0c0"/>
<rect x="1038" y="628" width="1" height="11" fill="#c0c0c0"/>
<rect x="1046" y="627" width="1" height="12" fill="#c0c0c0"/>
<rect x="1054" y="625" width="1" height="14" fill="#c0c0c0"/>
<rect x="1062" y="623" width="1" height="16" fill="#c0c0c0"/>
<rect x="1070" y="622" width="1" height="17" fill="#c0c0c0"/>
<rect x="1078" y="621" width="1" height="18" fill="#c0c0c0"/>
<rect x="1086" y="620" width="1" height="19" fill="#c0c0c0"/>
<rect x="1094" y="620" width="1" height="19" fill="#c0c0c0"/>
<rect x="1102" y="620" width="1" height="19" fill="#c0c0c0"/>
<rect x="1110" y="621" width="1" height="18" fill="#c0c0c0"/>
<rect x="1118" y="622" width="1" height="17" fill="#c0c0c0"/>
<rect x="1126" y="623" width="1" height="16" fill="#c0c0c0"/>
<rect x="1134" y="623" width="1" height="16" fill="#c0c0c0"/>
<rect x="1142" y="623" width="1" height="16" fill="#c0c0c0"/>
<rect x="1150" y="622" width="1" height="17" fill="#c0c0c0"/>
<rect x="1158" y="622" width="1" height="17" fill="#c0c0c0"/>
<rect x="1166" y="621" width="1" height="18" fill="#c0c0c0"/>
<rect x="1174" y="620" width="1" height="19" fill="#c0c0c0"/>
<rect x="1182" y="621" width="1" height="18" fill="#c0c0c0"/>
<rect x="1190" y="619" width="1" height="20" fill="#c0c0c0"/>
<rect x="1198" y="620" width="1" height="19" fill="#c0c0c0"/>
<rect x="1206" y="619" width="1" height="20" fill="#c0c0c0"/>
<rect x="1214" y="618" width="1" height="21" fill="#c0c0c0"/>
<rect x="1222" y="619" width="1" height="20" fill="#c0c0c0"/>
<rect x="1230" y="623" width="1" height="16" fill="#c0c0c0"/>
<rect x="1238" y="625" width="1" height="14" fill="#c0c0c0"/>
<rect x="1246" y="626" width="1" height="13" fill="#c0c0c0"/>
<rect x="1254" y="630" width="1" height="9" fill="#c0c0c0"/>
<rect x="1262" y="631" width="1" height="8" fill="#c0c0c0"/>
<rect x="1270" y="634" width="1" height="5" fill="#c0c0c0"/>
<rect x="1278" y="636" width="1" height="3" fill="#c0c0c0"/>
<rect x="1286" y="637" width="1" height="2" fill="#c0c0c0"/>
<rect x="1294" y="637" width="1" height="2" fill="#c0c0c0"/>
<rect x="1302" y="637" width="1" height="2" fill="#c0c0c0"/>
<rect x="1310" y="638" width="1" height="1" fill="#c0c0c0"/>
<rect x="1318" y="638" width="1" height="1" fill="#c0c0c0"/>
<rect x="1326" y="638" width="1" height="1" fill="#c0c0c0"/>
<rect x="1334" y="638" width="1" height="2" fill="#c0c0c0"/>
<rect x="1342" y="638" width="1" height="5" fill="#c0c0c0"/>
<rect x="1350" y="638" width="1" height="5" fill="#c0c0c0"/>
<rect x="1358" y="638" width="1" height="10" fill="#c0c0c0"/>
<rect x="1366" y="638" width="1" height="11" fill="#c0c0c0"/>
<rect x="1374" y="638" width="1" height="12" fill="#c0c0c0"/>
<rect x="1382" y="638" width="1" height="12" fill="#c0c0c0"/>
<rect x="1390" y="638" width="1" height="9" fill="#c0c0c0"/>
<rect x="1398" y="638" width="1" height="9" fill="#c0c0c0"/>
<rect x="1406" y="638" width="1" height="7" fill="#c0c0c0"/>
<rect x="1414" y="638" width="1" height="6" fill="#c0c0c0"/>
<rect x="1422" y="638" width="1" height="4" fill="#c0c0c0"/>
<rect x="1430" y="638" width="1" height="3" fill="#c0c0c0"/>
<rect x="1438" y="638" width="1" height="2" fill="#c0c0c0"/>
<rect x="1446" y="638" width="1" height="1" fill="#c0c0c0"/>
<rect x="1454" y="637" width="1" height="2" fill="#c0c0c0"/>
</g>
<polyline points="0.5,672.4 6.5,675.2 14.5,676.2 22.5,678.2 30.5,681.5 38.5,684.6 46.5,689.1 54.5,692.9 62.5,698.5 70.5,704.1 78.5,708.6 86.5,714.2 94.5,719.3 102.5,723.3 110.5,727.1 118.5,729.4 126.5,728.4 134.5,727.4 142.5,724.3 150.5,720.0 158.5,716.2 166.5,710.6 174.5,704.1 182.5,697.7 190.5,691.6 198.5,687.3 206.5,682.0 214.5,676.4 222.5,671.9 230.5,667.3 238.5,661.2 246.5,656.2 254.5,651.6 262.5,645.8 270.5,641.0 278.5,636.4 286.5,632.9 294.5,630.1 302.5,627.6 310.5,626.3 318.5,625.8 326.5,625.8 334.5,625.8 342.5,625.5 350.5,625.0 358.5,624.8 366.5,624.8 374.5,624.8 382.5,624.8 390.5,624.8 398.5,625.5 406.5,625.8 414.5,625.8 422.5,626.8 430.5,627.6 438.5,627.6 446.5,628.8 454.5,628.8 462.5,629.3 470.5,630.6 478.5,630.6 486.5,630.9 494.5,631.6 502.5,631.6 510.5,631.6 518.5,630.9 526.5,629.6 534.5,628.8 542.5,627.6 550.5,625.8 558.5,624.8 566.5,624.0 574.5,622.5 582.5,620.7 590.5,619.5 598.5,617.9 606.5,616.7 614.5,614.1 622.5,612.9 630.5,610.6 638.5,608.6 646.5,607.3 654.5,606.5 662.5,607.6 670.5,608.6 678.5,609.8 686.5,611.1 694.5,613.6 702.5,616.7 710.5,619.5 718.5,621.5 726.5,623.8 734.5,625.5 742.5,626.5 750.5,628.6 758.5,630.1 766.5,632.6 774.5,633.9 782.5,635.2 790.5,635.9 798.5,637.2 806.5,637.7 814.5,638.5 822.5,637.7 830.5,637.7 838.5,636.4 846.5,636.4 854.5,635.7 862.5,635.4 870.5,634.4 878.5,633.9 886.5,632.6 894.5,631.6 902.5,630.6 910.5,630.6 918.5,629.3 926.5,628.6 934.5,627.3 942.5,626.5 950.5,626.5 958.5,627.6 966.5,627.6 974.5,628.6 982.5,628.6 990.5,629.3 998.5,630.6 1006.5,631.6 1014.5,631.6 1022.5,631.6 1030.5,631.6 1038.5,631.4 1046.5,630.6 1054.5,629.3 1062.5,628.3 1070.5,627.6 1078.5,626.3 1086.5,624.3 1094.5,623.8 1102.5,622.2 1110.5,621.5 1118.5,620.7 1126.5,620.7 1134.5,620.7 1142.5,620.7 1150.5,621.5 1158.5,621.5 1166.5,621.5 1174.5,621.5 1182.5,621.5 1190.5,620.7 1198.5,620.7 1206.5,620.5 1214.5,619.5 1222.5,619.7 1230.5,619.7 1238.5,619.7 1246.5,620.5 1254.5,621.5 1262.5,623.0 1270.5,624.3 1278.5,626.5 1286.5,628.1 1294.5,630.3 1302.5,631.9 1310.5,633.4 1318.5,634.4 1326.5,635.4 1334.5,636.4 1342.5,637.4 1350.5,638.5 1358.5,639.7 1366.5,641.5 1374.5,642.8 1382.5,644.0 1390.5,645.5 1398.5,646.6 1406.5,646.6 1414.5,646.6 1422.5,646.6 1430.5,645.8 1438.5,644.5 1446.5,643.5 1454.5,642.3" fill="none" stroke="#ff0000" stroke-width="1" stroke-dasharray="3 3" shape-rendering="crispEdges"/>
<g shape-rendering="crispEdges">
<line x1="0" y1="785.5" x2="1689" y2="785.5" stroke="#c0c0c0" stroke-width="1" stroke-dasharray="3 3" stroke-dashoffset="1"/>
<line x1="0" y1="836.5" x2="1689" y2="836.5" stroke="#c0c0c0" stroke-width="1" stroke-dasharray="3 3" stroke-dashoffset="1"/>
<line x1="0" y1="897.5" x2="1689" y2="897.5" stroke="#c0c0c0" stroke-width="1" stroke-dasharray="3 3" stroke-dashoffset="1"/>
</g>
<polyline points="0.5,870.6 6.5,872.9 14.5,868.6 22.5,874.9 30.5,888.4 38.5,861.8 46.5,867.3 54.5,873.2 62.5,875.5 70.5,875.5 78.5,878.5 86.5,880.5 94.5,884.6 102.5,876.7 110.5,857.7 118.5,851.6 126.5,839.5 134.5,846.3 142.5,849.9 150.5,840.8 158.5,845.3 166.5,848.9 174.5,846.6 182.5,848.9 190.5,845.3 198.5,832.4 206.5,833.9 214.5,826.8 222.5,824.3 230.5,828.8 238.5,827.6 246.5,823.5 254.5,830.9 262.5,822.8 270.5,822.5 278.5,824.3 286.5,829.9 294.5,836.2 302.5,833.9 310.5,833.7 318.5,828.8 326.5,829.9 334.5,824.5 342.5,824.3 350.5,817.4 358.5,827.3 366.5,833.2 374.5,838.5 382.5,833.7 390.5,830.6 398.5,836.7 406.5,829.4 414.5,824.5 422.5,823.5 430.5,828.8 438.5,840.8 446.5,843.8 454.5,836.7 462.5,838.5 470.5,834.9 478.5,821.8 486.5,828.6 494.5,824.5 502.5,824.5 510.5,825.6 518.5,823.8 526.5,821.8 534.5,816.7 542.5,806.8 550.5,814.7 558.5,812.6 566.5,818.7 574.5,817.4 582.5,809.9 590.5,802.5 598.5,806.1 606.5,795.9 614.5,793.9 622.5,791.6 630.5,795.9 638.5,812.4 646.5,839.7 654.5,837.0 662.5,841.5 670.5,828.6 678.5,826.8 686.5,832.6 694.5,829.6 702.5,838.5 710.5,839.7 718.5,829.6 726.5,831.1 734.5,842.5 742.5,838.7 750.5,847.3 758.5,848.9 766.5,836.7 774.5,835.7 782.5,836.7 790.5,833.7 798.5,835.7 806.5,831.6 814.5,824.5 822.5,833.9 830.5,830.6 838.5,836.7 846.5,830.9 854.5,829.6 862.5,829.6 870.5,816.7 878.5,816.7 886.5,820.5 894.5,823.5 902.5,821.8 910.5,821.8 918.5,817.7 926.5,816.7 934.5,826.8 942.5,833.7 950.5,833.7 958.5,827.8 966.5,834.7 974.5,831.6 982.5,831.6 990.5,834.7 998.5,834.7 1006.5,826.8 1014.5,821.8 1022.5,811.6 1030.5,807.6 1038.5,805.8 1046.5,806.8 1054.5,798.7 1062.5,799.7 1070.5,795.7 1078.5,795.7 1086.5,800.5 1094.5,798.7 1102.5,801.7 1110.5,807.3 1118.5,817.4 1126.5,811.9 1134.5,808.6 1142.5,806.6 1150.5,796.7 1158.5,802.5 1166.5,799.7 1174.5,794.9 1182.5,793.6 1190.5,790.6 1198.5,809.6 1206.5,802.8 1214.5,794.9 1222.5,831.6 1230.5,833.7 1238.5,833.7 1246.5,826.8 1254.5,849.6 1262.5,834.7 1270.5,843.5 1278.5,843.5 1286.5,838.7 1294.5,834.7 1302.5,837.5 1310.5,835.7 1318.5,839.5 1326.5,844.0 1334.5,845.8 1342.5,856.7 1350.5,851.6 1358.5,864.8 1366.5,856.5 1374.5,850.9 1382.5,848.9 1390.5,836.7 1398.5,839.7 1406.5,831.4 1414.5,833.7 1422.5,837.5 1430.5,831.4 1438.5,826.6 1446.5,836.2 1454.5,824.3" fill="none" stroke="#1e90ff" stroke-width="1" shape-rendering="crispEdges"/>
<line x1="1355.3" y1="866.3" x2="1443.9" y2="831.3" stroke="#ff0000" stroke-width="3"/>
<polygon points="1454.1,827.3 1445.7,836.0 1442.0,826.7" fill="#ff0000"/>
<g shape-rendering="crispEdges">
<rect x="0" y="22" width="1692" height="1" fill="#000"/>
<rect x="1691" y="22" width="1" height="902" fill="#000"/>
<rect x="0" y="589" width="1692" height="1" fill="#000"/>
<rect x="0" y="591" width="1692" height="1" fill="#000"/>
<rect x="0" y="746" width="1692" height="1" fill="#000"/>
<rect x="0" y="748" width="1692" height="1" fill="#000"/>
<rect x="0" y="923" width="1692" height="1" fill="#000"/>
<rect x="1691" y="590" width="1" height="1" fill="#fff"/>
<rect x="1691" y="747" width="1" height="1" fill="#fff"/>
<rect x="1692" y="25" width="3" height="1" fill="#000"/>
<rect x="1692" y="124" width="3" height="1" fill="#000"/>
<rect x="1692" y="190" width="3" height="1" fill="#000"/>
<rect x="1692" y="223" width="3" height="1" fill="#000"/>
<rect x="1692" y="256" width="3" height="1" fill="#000"/>
<rect x="1692" y="289" width="3" height="1" fill="#000"/>
<rect x="1692" y="322" width="3" height="1" fill="#000"/>
<rect x="1692" y="355" width="3" height="1" fill="#000"/>
<rect x="1692" y="388" width="3" height="1" fill="#000"/>
<rect x="1692" y="421" width="3" height="1" fill="#000"/>
<rect x="1692" y="454" width="3" height="1" fill="#000"/>
<rect x="1692" y="487" width="3" height="1" fill="#000"/>
<rect x="1692" y="520" width="3" height="1" fill="#000"/>
<rect x="1692" y="553" width="3" height="1" fill="#000"/>
<rect x="1692" y="586" width="3" height="1" fill="#000"/>
<rect x="1692" y="58" width="3" height="1" fill="#000"/>
<rect x="1692" y="91" width="3" height="1" fill="#000"/>
<rect x="1692" y="638" width="3" height="1" fill="#000"/>
<rect x="1692" y="785" width="3" height="1" fill="#000"/>
<rect x="1692" y="836" width="3" height="1" fill="#000"/>
<rect x="1692" y="897" width="3" height="1" fill="#000"/>
<rect x="62" y="924" width="1" height="3" fill="#000"/>
<rect x="126" y="924" width="1" height="3" fill="#000"/>
<rect x="190" y="924" width="1" height="3" fill="#000"/>
<rect x="254" y="924" width="1" height="3" fill="#000"/>
<rect x="318" y="924" width="1" height="3" fill="#000"/>
<rect x="382" y="924" width="1" height="3" fill="#000"/>
<rect x="446" y="924" width="1" height="3" fill="#000"/>
<rect x="510" y="924" width="1" height="3" fill="#000"/>
<rect x="574" y="924" width="1" height="3" fill="#000"/>
<rect x="638" y="924" width="1" height="3" fill="#000"/>
<rect x="702" y="924" width="1" height="3" fill="#000"/>
<rect x="766" y="924" width="1" height="3" fill="#000"/>
<rect x="830" y="924" width="1" height="3" fill="#000"/>
<rect x="894" y="924" width="1" height="3" fill="#000"/>
<rect x="958" y="924" width="1" height="3" fill="#000"/>
<rect x="1022" y="924" width="1" height="3" fill="#000"/>
<rect x="1086" y="924" width="1" height="3" fill="#000"/>
<rect x="1150" y="924" width="1" height="3" fill="#000"/>
<rect x="1214" y="924" width="1" height="3" fill="#000"/>
<rect x="1278" y="924" width="1" height="3" fill="#000"/>
<rect x="1342" y="924" width="1" height="3" fill="#000"/>
<rect x="1406" y="924" width="1" height="3" fill="#000"/>
</g>
<text x="1696.8" y="57.8" fill="#000" stroke="#000" stroke-width="0.2" font-size="10.5" text-anchor="start" dominant-baseline="central" textLength="32.8" lengthAdjust="spacingAndGlyphs">29000.0</text>
<text x="1696.8" y="91.1" fill="#000" stroke="#000" stroke-width="0.2" font-size="10.5" text-anchor="start" dominant-baseline="central" textLength="32.8" lengthAdjust="spacingAndGlyphs">28307.0</text>
<text x="1696.8" y="25.1" fill="#000" stroke="#000" stroke-width="0.2" font-size="10.5" text-anchor="start" dominant-baseline="central" textLength="32.8" lengthAdjust="spacingAndGlyphs">29693.0</text>
<text x="1696.8" y="124.3" fill="#000" stroke="#000" stroke-width="0.2" font-size="10.5" text-anchor="start" dominant-baseline="central" textLength="32.8" lengthAdjust="spacingAndGlyphs">27593.0</text>
<text x="1696.8" y="189.9" fill="#000" stroke="#000" stroke-width="0.2" font-size="10.5" text-anchor="start" dominant-baseline="central" textLength="32.8" lengthAdjust="spacingAndGlyphs">26207.0</text>
<text x="1696.8" y="223.2" fill="#000" stroke="#000" stroke-width="0.2" font-size="10.5" text-anchor="start" dominant-baseline="central" textLength="32.8" lengthAdjust="spacingAndGlyphs">25493.0</text>
<text x="1696.8" y="256.4" fill="#000" stroke="#000" stroke-width="0.2" font-size="10.5" text-anchor="start" dominant-baseline="central" textLength="32.8" lengthAdjust="spacingAndGlyphs">24800.0</text>
<text x="1696.8" y="289.1" fill="#000" stroke="#000" stroke-width="0.2" font-size="10.5" text-anchor="start" dominant-baseline="central" textLength="32.8" lengthAdjust="spacingAndGlyphs">24107.0</text>
<text x="1696.8" y="322.4" fill="#000" stroke="#000" stroke-width="0.2" font-size="10.5" text-anchor="start" dominant-baseline="central" textLength="32.8" lengthAdjust="spacingAndGlyphs">23393.0</text>
<text x="1696.8" y="355.1" fill="#000" stroke="#000" stroke-width="0.2" font-size="10.5" text-anchor="start" dominant-baseline="central" textLength="32.8" lengthAdjust="spacingAndGlyphs">22700.0</text>
<text x="1696.8" y="388.0" fill="#000" stroke="#000" stroke-width="0.2" font-size="10.5" text-anchor="start" dominant-baseline="central" textLength="32.8" lengthAdjust="spacingAndGlyphs">22007.0</text>
<text x="1696.8" y="421.0" fill="#000" stroke="#000" stroke-width="0.2" font-size="10.5" text-anchor="start" dominant-baseline="central" textLength="32.8" lengthAdjust="spacingAndGlyphs">21293.0</text>
<text x="1696.8" y="454.3" fill="#000" stroke="#000" stroke-width="0.2" font-size="10.5" text-anchor="start" dominant-baseline="central" textLength="32.8" lengthAdjust="spacingAndGlyphs">20600.0</text>
<text x="1696.8" y="487.1" fill="#000" stroke="#000" stroke-width="0.2" font-size="10.5" text-anchor="start" dominant-baseline="central" textLength="32.8" lengthAdjust="spacingAndGlyphs">19907.0</text>
<text x="1696.8" y="520.1" fill="#000" stroke="#000" stroke-width="0.2" font-size="10.5" text-anchor="start" dominant-baseline="central" textLength="32.8" lengthAdjust="spacingAndGlyphs">19193.0</text>
<text x="1696.8" y="553.0" fill="#000" stroke="#000" stroke-width="0.2" font-size="10.5" text-anchor="start" dominant-baseline="central" textLength="32.8" lengthAdjust="spacingAndGlyphs">18500.0</text>
<text x="1696.8" y="586.1" fill="#000" stroke="#000" stroke-width="0.2" font-size="10.5" text-anchor="start" dominant-baseline="central" textLength="32.8" lengthAdjust="spacingAndGlyphs">17807.0</text>
<rect x="1693" y="47" width="41" height="11" fill="#ff0000" shape-rendering="crispEdges"/>
<text x="1696.8" y="52.7" fill="#fff" stroke="#fff" stroke-width="0.2" font-size="10.5" text-anchor="start" dominant-baseline="central" textLength="32.8" lengthAdjust="spacingAndGlyphs">29098.5</text>
<rect x="1693" y="71" width="41" height="11" fill="#ff0000" shape-rendering="crispEdges"/>
<text x="1696.8" y="76.7" fill="#fff" stroke="#fff" stroke-width="0.2" font-size="10.5" text-anchor="start" dominant-baseline="central" textLength="32.8" lengthAdjust="spacingAndGlyphs">28590.1</text>
<rect x="1693" y="91" width="41" height="11" fill="#000000" shape-rendering="crispEdges"/>
<text x="1696.8" y="96.7" fill="#fff" stroke="#fff" stroke-width="0.2" font-size="10.5" text-anchor="start" dominant-baseline="central" textLength="32.8" lengthAdjust="spacingAndGlyphs">28192.0</text>
<rect x="1693" y="107" width="41" height="11" fill="#32cd32" shape-rendering="crispEdges"/>
<text x="1696.8" y="112.7" fill="#fff" stroke="#fff" stroke-width="0.2" font-size="10.5" text-anchor="start" dominant-baseline="central" textLength="32.8" lengthAdjust="spacingAndGlyphs">27827.5</text>
<rect x="1693" y="132" width="41" height="11" fill="#0000ff" shape-rendering="crispEdges"/>
<text x="1696.8" y="137.7" fill="#fff" stroke="#fff" stroke-width="0.2" font-size="10.5" text-anchor="start" dominant-baseline="central" textLength="32.8" lengthAdjust="spacingAndGlyphs">27297.9</text>
<rect x="1693" y="154" width="41" height="11" fill="#0000ff" shape-rendering="crispEdges"/>
<text x="1696.8" y="159.7" fill="#fff" stroke="#fff" stroke-width="0.2" font-size="10.5" text-anchor="start" dominant-baseline="central" textLength="32.8" lengthAdjust="spacingAndGlyphs">26831.8</text>
<text x="1695.5" y="598.3" fill="#000" stroke="#000" stroke-width="0.2" font-size="10.5" text-anchor="start" dominant-baseline="central" textLength="32.8" lengthAdjust="spacingAndGlyphs">1024.52</text>
<text x="1696.8" y="638.3" fill="#000" stroke="#000" stroke-width="0.2" font-size="10.5" text-anchor="start" dominant-baseline="central" textLength="17.6" lengthAdjust="spacingAndGlyphs">0.00</text>
<text x="1695.5" y="740.8" fill="#000" stroke="#000" stroke-width="0.2" font-size="10.5" text-anchor="start" dominant-baseline="central" textLength="35.8" lengthAdjust="spacingAndGlyphs">-2433.25</text>
<text x="1695.5" y="756.8" fill="#000" stroke="#000" stroke-width="0.2" font-size="10.5" text-anchor="start" dominant-baseline="central" textLength="15.1" lengthAdjust="spacingAndGlyphs">100</text>
<text x="1695.5" y="785.3" fill="#000" stroke="#000" stroke-width="0.2" font-size="10.5" text-anchor="start" dominant-baseline="central" textLength="10.1" lengthAdjust="spacingAndGlyphs">80</text>
<text x="1695.5" y="836.3" fill="#000" stroke="#000" stroke-width="0.2" font-size="10.5" text-anchor="start" dominant-baseline="central" textLength="10.1" lengthAdjust="spacingAndGlyphs">50</text>
<text x="1695.5" y="897.3" fill="#000" stroke="#000" stroke-width="0.2" font-size="10.5" text-anchor="start" dominant-baseline="central" textLength="10.1" lengthAdjust="spacingAndGlyphs">15</text>
<text x="1695.5" y="916.3" fill="#000" stroke="#000" stroke-width="0.2" font-size="10.5" text-anchor="start" dominant-baseline="central" textLength="5.0" lengthAdjust="spacingAndGlyphs">0</text>
<text x="-2.2" y="932.8" fill="#000" stroke="#000" stroke-width="0.2" font-size="10.5" text-anchor="start" dominant-baseline="central" textLength="45.8" lengthAdjust="spacingAndGlyphs">8 Mar 2020</text>
<text x="61.8" y="932.8" fill="#000" stroke="#000" stroke-width="0.2" font-size="10.5" text-anchor="start" dominant-baseline="central" textLength="50.9" lengthAdjust="spacingAndGlyphs">17 Mar 2020</text>
<text x="125.8" y="932.8" fill="#000" stroke="#000" stroke-width="0.2" font-size="10.5" text-anchor="start" dominant-baseline="central" textLength="50.9" lengthAdjust="spacingAndGlyphs">26 Mar 2020</text>
<text x="189.8" y="932.8" fill="#000" stroke="#000" stroke-width="0.2" font-size="10.5" text-anchor="start" dominant-baseline="central" textLength="43.8" lengthAdjust="spacingAndGlyphs">5 Apr 2020</text>
<text x="253.8" y="932.8" fill="#000" stroke="#000" stroke-width="0.2" font-size="10.5" text-anchor="start" dominant-baseline="central" textLength="48.9" lengthAdjust="spacingAndGlyphs">15 Apr 2020</text>
<text x="317.8" y="932.8" fill="#000" stroke="#000" stroke-width="0.2" font-size="10.5" text-anchor="start" dominant-baseline="central" textLength="48.9" lengthAdjust="spacingAndGlyphs">24 Apr 2020</text>
<text x="381.8" y="932.8" fill="#000" stroke="#000" stroke-width="0.2" font-size="10.5" text-anchor="start" dominant-baseline="central" textLength="47.4" lengthAdjust="spacingAndGlyphs">4 May 2020</text>
<text x="445.8" y="932.8" fill="#000" stroke="#000" stroke-width="0.2" font-size="10.5" text-anchor="start" dominant-baseline="central" textLength="52.4" lengthAdjust="spacingAndGlyphs">13 May 2020</text>
<text x="509.8" y="932.8" fill="#000" stroke="#000" stroke-width="0.2" font-size="10.5" text-anchor="start" dominant-baseline="central" textLength="52.4" lengthAdjust="spacingAndGlyphs">22 May 2020</text>
<text x="573.8" y="932.8" fill="#000" stroke="#000" stroke-width="0.2" font-size="10.5" text-anchor="start" dominant-baseline="central" textLength="44.8" lengthAdjust="spacingAndGlyphs">1 Jun 2020</text>
<text x="637.8" y="932.8" fill="#000" stroke="#000" stroke-width="0.2" font-size="10.5" text-anchor="start" dominant-baseline="central" textLength="49.9" lengthAdjust="spacingAndGlyphs">10 Jun 2020</text>
<text x="701.8" y="932.8" fill="#000" stroke="#000" stroke-width="0.2" font-size="10.5" text-anchor="start" dominant-baseline="central" textLength="49.9" lengthAdjust="spacingAndGlyphs">19 Jun 2020</text>
<text x="765.8" y="932.8" fill="#000" stroke="#000" stroke-width="0.2" font-size="10.5" text-anchor="start" dominant-baseline="central" textLength="49.9" lengthAdjust="spacingAndGlyphs">29 Jun 2020</text>
<text x="829.8" y="932.8" fill="#000" stroke="#000" stroke-width="0.2" font-size="10.5" text-anchor="start" dominant-baseline="central" textLength="41.8" lengthAdjust="spacingAndGlyphs">8 Jul 2020</text>
<text x="893.8" y="932.8" fill="#000" stroke="#000" stroke-width="0.2" font-size="10.5" text-anchor="start" dominant-baseline="central" textLength="46.9" lengthAdjust="spacingAndGlyphs">17 Jul 2020</text>
<text x="957.8" y="932.8" fill="#000" stroke="#000" stroke-width="0.2" font-size="10.5" text-anchor="start" dominant-baseline="central" textLength="46.9" lengthAdjust="spacingAndGlyphs">27 Jul 2020</text>
<text x="1021.8" y="932.8" fill="#000" stroke="#000" stroke-width="0.2" font-size="10.5" text-anchor="start" dominant-baseline="central" textLength="45.9" lengthAdjust="spacingAndGlyphs">5 Aug 2020</text>
<text x="1085.8" y="932.8" fill="#000" stroke="#000" stroke-width="0.2" font-size="10.5" text-anchor="start" dominant-baseline="central" textLength="50.9" lengthAdjust="spacingAndGlyphs">14 Aug 2020</text>
<text x="1149.8" y="932.8" fill="#000" stroke="#000" stroke-width="0.2" font-size="10.5" text-anchor="start" dominant-baseline="central" textLength="50.9" lengthAdjust="spacingAndGlyphs">24 Aug 2020</text>
<text x="1213.8" y="932.8" fill="#000" stroke="#000" stroke-width="0.2" font-size="10.5" text-anchor="start" dominant-baseline="central" textLength="46.4" lengthAdjust="spacingAndGlyphs">2 Sep 2020</text>
<text x="1277.8" y="932.8" fill="#000" stroke="#000" stroke-width="0.2" font-size="10.5" text-anchor="start" dominant-baseline="central" textLength="50.7" lengthAdjust="spacingAndGlyphs">11 Sep 2020</text>
<text x="1341.8" y="932.8" fill="#000" stroke="#000" stroke-width="0.2" font-size="10.5" text-anchor="start" dominant-baseline="central" textLength="51.4" lengthAdjust="spacingAndGlyphs">21 Sep 2020</text>
<text x="1405.8" y="932.8" fill="#000" stroke="#000" stroke-width="0.2" font-size="10.5" text-anchor="start" dominant-baseline="central" textLength="51.4" lengthAdjust="spacingAndGlyphs">30 Sep 2020</text>
<polygon points="1,33.5 8,33.5 4.5,29.5" fill="#000"/>
<text x="13.3" y="29.8" fill="#000" stroke="#000" stroke-width="0.2" font-size="10.5" text-anchor="start" dominant-baseline="central" xml:space="preserve" textLength="196" lengthAdjust="spacingAndGlyphs">DJ30-,Daily  27641.0 28246.0 27615.0 28192.0</text>
<text x="2.5" y="600.3" fill="#000" stroke="#000" stroke-width="0.2" font-size="10.5" text-anchor="start" dominant-baseline="central" textLength="120.3" lengthAdjust="spacingAndGlyphs">MACD(12,26,9) 38.88 -81.82</text>
<text x="2.5" y="758.8" fill="#000" stroke="#000" stroke-width="0.2" font-size="10.5" text-anchor="start" dominant-baseline="central" textLength="66.8" lengthAdjust="spacingAndGlyphs">RSI(14) 57.9311</text>
<polygon points="1448.5,23 1457.5,23 1453,28" fill="#b0b0b0"/>
</svg>
<svg id="panel" width="230" height="110" viewBox="0 0 230 110" font-family='"Liberation Sans", sans-serif'>
<defs>
<linearGradient id="gb" x1="0" y1="0" x2="0" y2="1"><stop offset="0" stop-color="#fa5252"/><stop offset="1" stop-color="#e63c3c"/></linearGradient>
<linearGradient id="gl" gradientUnits="userSpaceOnUse" x1="0" y1="66" x2="0" y2="106"><stop offset="0" stop-color="#dc2e2e"/><stop offset="1" stop-color="#b00000"/></linearGradient>
<linearGradient id="gl2" gradientUnits="userSpaceOnUse" x1="0" y1="-31" x2="0" y2="9"><stop offset="0" stop-color="#dc2e2e"/><stop offset="1" stop-color="#b00000"/></linearGradient>
<linearGradient id="gs" x1="0" y1="0" x2="0" y2="1"><stop offset="0" stop-color="#f4f4f4"/><stop offset="0.5" stop-color="#dcdcdc"/><stop offset="1" stop-color="#cfcfcf"/></linearGradient>
</defs>
<g shape-rendering="crispEdges">
<rect x="0" y="41" width="221" height="65" fill="#fff"/>
<rect x="1" y="42" width="52" height="24" fill="url(#gb)"/>
<rect x="168" y="42" width="52" height="24" fill="url(#gb)"/>
<rect x="1" y="66" width="109" height="40" fill="url(#gl)"/>
<rect x="112" y="66" width="108" height="40" fill="url(#gl)"/>
<rect x="1" y="42" width="1" height="64" fill="#cc1010"/><rect x="219" y="42" width="1" height="64" fill="#cc1010"/>
<rect x="1" y="42" width="52" height="1" fill="#d42020"/><rect x="168" y="42" width="52" height="1" fill="#d42020"/>
<rect x="52" y="42" width="1" height="24" fill="#d42020"/><rect x="168" y="42" width="1" height="24" fill="#d42020"/>
<rect x="1" y="105" width="109" height="1" fill="#a00000"/><rect x="112" y="105" width="108" height="1" fill="#a00000"/>
<rect x="5" y="65" width="44" height="1" fill="#f08080"/><rect x="172" y="65" width="44" height="1" fill="#f08080"/>
<rect x="55.5" y="42.5" width="110" height="21" fill="#fff" stroke="#a0a0a8" stroke-width="1"/>
<rect x="57" y="44" width="19" height="19" fill="url(#gs)"/>
<rect x="145" y="44" width="19" height="19" fill="url(#gs)"/>
<rect x="76" y="43" width="1" height="20" fill="#b0b0b8"/><rect x="144" y="43" width="1" height="20" fill="#b0b0b8"/>
</g>
<polygon points="63,51 69,51 66,54.5" fill="#4a5ab0"/>
<polygon points="151,54 157,54 154,50.5" fill="#4a5ab0"/>
<text x="13.3" y="57.3" fill="#fff" font-size="11.6" textLength="25.4" lengthAdjust="spacingAndGlyphs">SELL</text>
<text x="181.7" y="57.3" fill="#fff" font-size="11.6" textLength="22.8" lengthAdjust="spacingAndGlyphs">BUY</text>
<text x="141" y="57.3" fill="#000" font-size="12.3" text-anchor="end">1.00</text>
<text x="17.2" y="97" fill="#fff" font-size="12" font-weight="700">28190</text>
<text x="55" y="97" fill="#fff" font-size="26" font-weight="700">.</text>
<text transform="translate(62.2,97) scale(0.86,1)" x="0" y="0" fill="#fff" font-size="35" stroke="url(#gl2)" stroke-width="0.55">5</text>
<text x="127.8" y="97" fill="#fff" font-size="12" font-weight="700">28199</text>
<text x="166" y="97" fill="#fff" font-size="26" font-weight="700">.</text>
<text transform="translate(173,97) scale(0.86,1)" x="0" y="0" fill="#fff" font-size="35" stroke="url(#gl2)" stroke-width="0.55">5</text>
</svg>
<svg id="tb" width="1737" height="22" viewBox="0 0 1737 22" font-family='"Liberation Sans", "Noto Sans CJK SC", sans-serif'>
<defs>
<linearGradient id="tbg" x1="0" y1="0" x2="0" y2="1"><stop offset="0" stop-color="#eeeeee"/><stop offset="0.45" stop-color="#b8b8b8"/><stop offset="1" stop-color="#7c7c7c"/></linearGradient>
<pattern id="chk" width="2" height="2" patternUnits="userSpaceOnUse"><rect width="2" height="2" fill="#f6f6f6"/><rect width="1" height="1" fill="#e6e6e6"/><rect x="1" y="1" width="1" height="1" fill="#e6e6e6"/></pattern>
<linearGradient id="gold" x1="0" y1="0" x2="1" y2="1"><stop offset="0" stop-color="#f6d878"/><stop offset="1" stop-color="#b88a10"/></linearGradient>
<linearGradient id="grn" x1="0" y1="0" x2="0" y2="1"><stop offset="0" stop-color="#5ee85e"/><stop offset="1" stop-color="#0a9a0a"/></linearGradient>
<linearGradient id="blu" x1="0" y1="0" x2="0" y2="1"><stop offset="0" stop-color="#4a94ec"/><stop offset="1" stop-color="#0c44b8"/></linearGradient>
<linearGradient id="cld" x1="0" y1="0" x2="0" y2="1"><stop offset="0" stop-color="#f4f7fc"/><stop offset="1" stop-color="#b4c0d8"/></linearGradient>
</defs>
<g shape-rendering="crispEdges"><rect width="1737" height="17" fill="#f0f0f0"/>
<rect y="17" width="1737" height="1" fill="#e4e4e4"/>
<rect y="18" width="1737" height="1" fill="#a6a6a6"/>
<rect y="19" width="1737" height="1" fill="#6e6e6e"/>
<rect y="20" width="1737" height="2" fill="#ffffff"/></g>
<!-- toolbar separators -->
<g shape-rendering="crispEdges" fill="#9a9a9a">
<rect x="52" y="0" width="1" height="16"/>
<rect x="288" y="0" width="1" height="18"/>
<rect x="326" y="0" width="1" height="16"/>
<rect x="383" y="0" width="1" height="16"/>
<rect x="473" y="0" width="1" height="16"/>
<rect x="478" y="0" width="1" height="16"/>
<rect x="506" y="0" width="1" height="16"/>
<rect x="535" y="0" width="1" height="16"/>
<rect x="656" y="0" width="1" height="18"/>
<rect x="666" y="0" width="1" height="16"/>
<rect x="723" y="0" width="1" height="16"/>
<rect x="962" y="0" width="1" height="18"/>
<rect x="1140" y="0" width="1" height="16"/>
<rect x="1223" y="0" width="1" height="18"/>
</g>
<g shape-rendering="crispEdges" fill="#ffffff">
<rect x="289" y="0" width="1" height="18"/><rect x="657" y="0" width="1" height="18"/><rect x="963" y="0" width="1" height="18"/><rect x="1224" y="0" width="1" height="18"/>
</g>
<!-- grips -->
<g shape-rendering="crispEdges" fill="#a8a8a8">
<rect x="292" y="1" width="3" height="1"/><rect x="292" y="3" width="3" height="1"/><rect x="292" y="5" width="3" height="1"/><rect x="292" y="7" width="3" height="1"/><rect x="292" y="9" width="3" height="1"/><rect x="292" y="11" width="3" height="1"/><rect x="292" y="13" width="3" height="1"/>
<rect x="660" y="1" width="3" height="1"/><rect x="660" y="3" width="3" height="1"/><rect x="660" y="5" width="3" height="1"/><rect x="660" y="7" width="3" height="1"/><rect x="660" y="9" width="3" height="1"/><rect x="660" y="11" width="3" height="1"/><rect x="660" y="13" width="3" height="1"/>
<rect x="966" y="1" width="3" height="1"/><rect x="966" y="3" width="3" height="1"/><rect x="966" y="5" width="3" height="1"/><rect x="966" y="7" width="3" height="1"/><rect x="966" y="9" width="3" height="1"/><rect x="966" y="11" width="3" height="1"/><rect x="966" y="13" width="3" height="1"/>
</g>
<!-- selected button backgrounds -->
<rect x="327" y="0" width="24" height="16" fill="url(#chk)"/>
<rect x="479" y="0" width="25" height="16" fill="url(#chk)"/>
<rect x="507" y="0" width="25" height="16" fill="url(#chk)"/>
<rect x="667" y="0" width="25" height="16" fill="url(#chk)"/>
<rect x="1141" y="0" width="25" height="16" fill="url(#chk)"/>

<!-- icon 1: list page -->
<rect x="-2" y="-3" width="16" height="15.5" fill="#fff" stroke="#3a78c8" stroke-width="1.4"/>
<rect x="-1" y="-2" width="2.6" height="14" fill="#3a7ad0"/><rect x="1" y="3" width="1" height="7.5" fill="#1a2a50"/>
<g fill="#8fb4e8"><rect x="5" y="1.2" width="8" height="0.8"/><rect x="5" y="3.4" width="8" height="0.8"/><rect x="5" y="5.4" width="8" height="0.8"/><rect x="5" y="7.4" width="8" height="0.8"/></g>
<circle cx="4.3" cy="1.6" r="0.8" fill="#e02020"/><circle cx="4.3" cy="3.6" r="0.8" fill="#303030"/><circle cx="4.3" cy="5.6" r="0.8" fill="#303030"/><circle cx="4.3" cy="7.6" r="0.8" fill="#e02020"/>
<!-- icon 2: page + magnifier -->
<rect x="27.5" y="-3" width="11" height="14" fill="#fafafa" stroke="#b0a890" stroke-width="1"/>
<line x1="40" y1="10" x2="44.5" y2="14.5" stroke="#c89a28" stroke-width="2.4"/>
<circle cx="35.5" cy="6" r="5.2" fill="#d8e6f6" fill-opacity="0.85" stroke="#88a8d8" stroke-width="1.2"/>
<rect x="33.6" y="3.4" width="2.6" height="5" fill="#a8b4c4"/>
<!-- icon 3: new order -->
<path d="M62.5,-2 h9 l3,3 v10 h-12 z" fill="#fdfdfd" stroke="#8c8c8c" stroke-width="1"/>
<rect x="64.5" y="0.2" width="3" height="1.6" fill="#8c8c8c"/><rect x="64.5" y="3.6" width="6" height="0.9" fill="#9a9a9a"/><rect x="64.5" y="5.8" width="5" height="0.9" fill="#9a9a9a"/>
<path d="M70.3,4.5 h3.4 v4.3 h4.3 v3.4 h-4.3 v4.3 h-3.4 v-4.3 h-4.3 v-3.4 h4.3 z" fill="url(#grn)" stroke="#067a06" stroke-width="0.9"/>
<text x="81" y="9.2" font-size="12.4" font-weight="500" fill="#000">新订单</text>
<!-- gold icon -->
<path d="M136.5,-3 l8.5,8 l-6,8.8 l-9.5,-6.2 z" fill="url(#gold)" stroke="#a87808" stroke-width="0.8"/>
<path d="M129.8,8 l9,6 l6,-8.6" fill="none" stroke="#8a6206" stroke-width="1.4"/>
<!-- cloud icon -->
<rect x="160.5" y="-3" width="9.5" height="10" fill="#2c8ce8" stroke="#1a6ac8" stroke-width="1"/>
<rect x="163" y="1" width="5" height="1.6" fill="#d8ecff"/>
<path d="M158.5,13.5 a3.2,3.2 0 0 1 0.6,-6.2 a4.2,4.2 0 0 1 7.6,-1 a3.4,3.4 0 0 1 5.4,3.2 a2.2,2.2 0 0 1 -0.6,4 z" fill="url(#cld)" stroke="#8898b8" stroke-width="1"/>
<!-- signal icon -->
<circle cx="193" cy="5.5" r="7.6" fill="none" stroke="#a8c0e8" stroke-width="1.1"/>
<path d="M193,13.4 a7.8,7.8 0 0 0 7.6,-8 a7.6,7.6 0 0 0 -3,-6 l-4.6,6 z" fill="#8cc08c" fill-opacity="0.8"/>
<circle cx="193" cy="5.5" r="4.6" fill="none" stroke="#6890d8" stroke-width="1.1"/>
<circle cx="192.6" cy="5.2" r="1.9" fill="#2858c8"/>
<rect x="192.4" y="6" width="1.4" height="8" fill="#28a028"/>
<!-- auto trading icon -->
<path d="M213,5 l10,9 l5.5,-3 l0.5,-7 z" fill="#f4d040" stroke="#c8a010" stroke-width="0.8"/>
<ellipse cx="220.5" cy="3" rx="8" ry="2.8" fill="#58a8e0"/>
<path d="M215.5,2.5 q5,-9 10,0 z" fill="#3c90d8"/>
<circle cx="224.6" cy="9.6" r="4.3" fill="#d82818"/>
<rect x="222.8" y="7.8" width="3.6" height="3.6" fill="#fff"/>
<text x="233.5" y="9.2" font-size="12.4" font-weight="500" fill="#000" textLength="47" lengthAdjust="spacingAndGlyphs">自动交易</text>

<!-- chart type icons -->
<g shape-rendering="crispEdges" fill="#505050">
<rect x="306" y="0" width="1" height="14"/><rect x="304" y="11" width="13" height="1"/>
<rect x="334" y="0" width="1" height="14"/><rect x="332" y="11" width="13" height="1"/>
<rect x="362" y="0" width="1" height="14"/><rect x="360" y="11" width="13" height="1"/>
<rect x="486" y="0" width="1" height="14"/><rect x="484" y="11" width="13" height="1"/>
<rect x="514" y="0" width="1" height="14"/><rect x="512" y="11" width="13" height="1"/>
</g>
<g fill="#505050">
<polygon points="316,9.5 318.5,11.5 316,13.5"/><polygon points="344,9.5 346.5,11.5 344,13.5"/><polygon points="372,9.5 374.5,11.5 372,13.5"/><polygon points="496,9.5 498.5,11.5 496,13.5"/><polygon points="524,9.5 526.5,11.5 524,13.5"/>
<polygon points="304.5,2.5 306.5,0 308.5,2.5"/><polygon points="332.5,2.5 334.5,0 336.5,2.5"/><polygon points="360.5,2.5 362.5,0 364.5,2.5"/><polygon points="484.5,2.5 486.5,0 488.5,2.5"/><polygon points="512.5,2.5 514.5,0 516.5,2.5"/>
</g>
<path d="M310,8.5 h2.5 v-7 h2.5" fill="none" stroke="#109a10" stroke-width="1.3"/>
<rect x="338.5" y="-1" width="4.4" height="8.6" fill="#28d028" stroke="#0a8a0a" stroke-width="1"/><rect x="340.2" y="8" width="1.2" height="2" fill="#0a8a0a"/>
<path d="M361,9 q4,-9 7,-5 q2,2.5 5,3" fill="none" stroke="#109a10" stroke-width="1.2"/>
<!-- zoom in/out -->
<line x1="402.5" y1="8.5" x2="407" y2="13" stroke="#c8a018" stroke-width="2.6"/>
<circle cx="398" cy="4" r="5.6" fill="#d4e6fa" stroke="#6898d8" stroke-width="1.2"/>
<path d="M394.8,4 h6.4 M398,0.8 v6.4" stroke="#2868c8" stroke-width="1.5"/>
<line x1="430.5" y1="8.5" x2="436" y2="14" stroke="#c8a018" stroke-width="2.6"/>
<circle cx="426" cy="4" r="5.6" fill="#d4e6fa" stroke="#6898d8" stroke-width="1.2"/>
<path d="M422.8,4 h6.4" stroke="#2868c8" stroke-width="1.5"/>
<!-- tile windows -->
<rect x="448" y="-2" width="8" height="8" fill="#48a830"/><rect x="456.6" y="-2" width="7.6" height="8" fill="#2c68d0"/>
<rect x="448" y="6.6" width="8" height="7" fill="#2c68d0"/><rect x="456.6" y="6.6" width="7.6" height="7" fill="#48a830"/>
<g fill="#fff"><rect x="449.5" y="1.6" width="5" height="3"/><rect x="458" y="1.6" width="5" height="3"/><rect x="449.5" y="9.4" width="5" height="3"/><rect x="458" y="9.4" width="5" height="3"/></g>
<!-- auto scroll / shift -->
<polygon points="491.5,2.5 495,5.5 491.5,8.5" fill="#a0e8a0" stroke="#109a10" stroke-width="1"/>
<rect x="520" y="0" width="1" height="10" fill="#2068b0" shape-rendering="crispEdges"/>
<path d="M521.5,5.5 l3.4,-2.4 v1.6 h2 v1.6 h-2 v1.6 z" fill="#e05010"/>
<!-- new indicator -->
<path d="M545.5,-2 h8 l3,3 v10 h-11 z" fill="#fdfdfd" stroke="#8c8c8c" stroke-width="1"/>
<path d="M553.3,4.5 h3.4 v4.3 h4.3 v3.4 h-4.3 v4.3 h-3.4 v-4.3 h-4.3 v-3.4 h4.3 z" fill="url(#grn)" stroke="#067a06" stroke-width="0.9"/>
<polygon points="566.5,5 572.5,5 569.5,8.2" fill="#000"/>
<!-- clock -->
<circle cx="591" cy="5.5" r="6.8" fill="#fdfdfd" stroke="url(#blu)" stroke-width="2.8"/>
<path d="M590.6,1.5 v4.4 h3" fill="none" stroke="#303030" stroke-width="1.1"/>
<polygon points="605.5,5 611.5,5 608.5,8.2" fill="#000"/>
<!-- template -->
<rect x="622.5" y="-2" width="15" height="14.5" fill="#fff" stroke="#3a78c8" stroke-width="1.3"/>
<rect x="623" y="-2" width="14" height="2.6" fill="#5a98e0"/>
<path d="M624.5,5 l2,0 l2,-1.6 l2,0.8 l2,-1 l2,0" fill="none" stroke="#a02010" stroke-width="1.1"/>
<rect x="623" y="6.6" width="14" height="0.8" fill="#78a8e0"/>
<path d="M624.5,10.6 l2,0 l2,-1.4 l2,1 l2,-2 l2,2" fill="none" stroke="#109a10" stroke-width="1.1"/>
<polygon points="644.5,5 650.5,5 647.5,8.2" fill="#000"/>
<!-- cursor -->
<path d="M674.2,-2 v12.4 l2.8,-2.6 l2.2,5 l1.8,-0.8 l-2.2,-5 h3.8 z" fill="#505050"/>
<!-- crosshair -->
<g shape-rendering="crispEdges" fill="#505050"><rect x="706" y="0" width="1" height="14"/><rect x="699" y="6" width="15" height="1"/></g>
<rect x="705.5" y="5.5" width="2" height="2" fill="#f0f0f0"/>
<!-- line tools -->
<g shape-rendering="crispEdges" fill="#404040"><rect x="740" y="0" width="1" height="13"/><rect x="763" y="6" width="12" height="1"/></g>
<line x1="791" y1="13" x2="803" y2="1" stroke="#505050" stroke-width="1.1"/>
<g stroke="#505050" stroke-width="1">
<line x1="817" y1="8" x2="827" y2="-1"/><line x1="819" y1="11.5" x2="830" y2="1.5"/><line x1="821.5" y1="13" x2="831" y2="4.5"/>
<line x1="820" y1="4.5" x2="819.5" y2="11"/><line x1="823" y1="2" x2="822.5" y2="9"/><line x1="826" y1="0" x2="825.5" y2="6.5"/><line x1="829" y1="0" x2="828.5" y2="4"/>
</g>
<text x="828" y="15" font-size="6.5" font-weight="700" fill="#303030">E</text>
<g stroke="#606060" stroke-width="1" stroke-dasharray="1 1" shape-rendering="crispEdges"><line x1="846" y1="2.5" x2="859" y2="2.5"/><line x1="846" y1="6.5" x2="859" y2="6.5"/><line x1="846" y1="10.5" x2="855" y2="10.5"/></g>
<text x="856" y="15" font-size="6.5" font-weight="700" fill="#303030">F</text>
<text x="876.5" y="11" font-size="12" fill="#505050" stroke="#505050" stroke-width="0.3">A</text>
<rect x="903.5" y="-0.5" width="11" height="13" fill="none" stroke="#606060" stroke-width="1" stroke-dasharray="1 1" shape-rendering="crispEdges"/>
<text x="904.8" y="11" font-size="11.5" font-weight="700" fill="#505050">T</text>
<polygon points="930,3 933.5,-0.5 937,3" fill="#505050"/><polygon points="937.5,9.5 941,13 944.5,9.5 941,7.8" fill="#505050"/>
<path d="M932.5,7 l2,2 l5,-5.5" fill="none" stroke="#505050" stroke-width="1.2"/>
<polygon points="950.5,5 956.5,5 953.5,8.2" fill="#000"/>
<!-- timeframes -->
<g font-size="9.2" fill="#3c3c3c" font-family='"Liberation Sans", sans-serif'>
<text x="977.5" y="10">M1</text><text x="1005" y="10">M5</text><text x="1031" y="10">M15</text><text x="1059" y="10">M30</text><text x="1090" y="10">H1</text><text x="1117" y="10">H4</text><text x="1146" y="10">D1</text><text x="1173.5" y="10">W1</text><text x="1200.5" y="10">MN</text>
</g>
<!-- right icons -->
<line x1="1690.6" y1="6.4" x2="1686" y2="11" stroke="#2858c8" stroke-width="2"/>
<circle cx="1693.6" cy="3.4" r="4" fill="#f8fbff" stroke="#2858c8" stroke-width="1.4"/>
<path d="M1726,-3.5 a6,6 0 1 1 0,12 l1.5,2.5 l-3.5,-2.6 a6,6 0 0 1 2,-11.9 z" fill="#e6e6ea" stroke="#a2a2aa" stroke-width="0.9"/>
<path d="M1717,2.2 a4.8,4.6 0 1 1 -1,9.2 l-2.6,2 l0.8,-2.8 a4.8,4.6 0 0 1 2.8,-8.4 z" fill="#eeeef2" stroke="#9c9ca4" stroke-width="0.9"/>
</svg>

</body></html>
